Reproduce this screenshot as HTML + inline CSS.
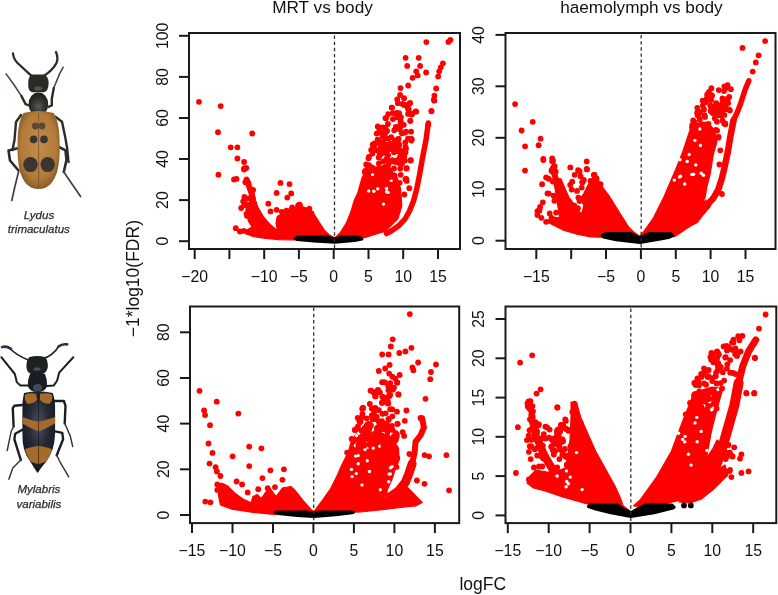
<!DOCTYPE html>
<html><head><meta charset="utf-8"><style>
html,body{margin:0;padding:0;background:#fff;}
body{width:778px;height:595px;overflow:hidden;position:relative;}
svg{position:absolute;left:0;top:0;will-change:transform;}
</style></head><body>
<svg width="778" height="595" viewBox="0 0 778 595" font-family="'Liberation Sans', sans-serif">


<g id="beetle1" filter="url(#soft)">
  <defs>
    <filter id="soft" x="-10%" y="-10%" width="120%" height="120%"><feGaussianBlur stdDeviation="0.45"/></filter>
    <radialGradient id="el1" cx="0.5" cy="0.45" r="0.6">
      <stop offset="0" stop-color="#c18d4b"/>
      <stop offset="0.7" stop-color="#b27a3a"/>
      <stop offset="1" stop-color="#7e5224"/>
    </radialGradient>
    <radialGradient id="pr1" cx="0.5" cy="0.6" r="0.55">
      <stop offset="0" stop-color="#5a5a58"/>
      <stop offset="0.6" stop-color="#30302c"/>
      <stop offset="1" stop-color="#1f1f1c"/>
    </radialGradient>
    <radialGradient id="el2" cx="0.5" cy="0.4" r="0.6">
      <stop offset="0" stop-color="#4a5060"/>
      <stop offset="0.5" stop-color="#262a36"/>
      <stop offset="1" stop-color="#15171e"/>
    </radialGradient>
  </defs>
  <g fill="none" stroke-linecap="round" stroke-linejoin="round">
    <!-- antennae -->
    <path d="M13,53.5 Q13.5,59 17.5,63 L32.3,76.6" stroke="#2a2d30" stroke-width="2.3"/>
    <path d="M56,52 Q58.5,58 56.5,63 Q53,70 43,76.6" stroke="#2a2d30" stroke-width="2.3"/>
    <!-- front legs -->
    <path d="M6.1,73.9 L13.5,84 L21.5,96.1" stroke="#4e3d40" stroke-width="1.5"/>
    <path d="M21.5,96.1 L25.6,104.2 L29,105.5" stroke="#2d2a28" stroke-width="2.4"/>
    <path d="M63.2,67.2 L59.2,74.6 L53.8,88" stroke="#4e3d40" stroke-width="1.5"/>
    <path d="M53.8,88 L51.8,98.8 L51.8,105.5 L48.4,106.9" stroke="#2d2a28" stroke-width="2.4"/>
    <!-- middle/hind legs left -->
    <path d="M21,115 L16,122 L14.5,140 L12.5,150" stroke="#2d2a28" stroke-width="2.4"/>
    <path d="M19,148 L8.5,150.5 L10,160.5 L18.5,170.5" stroke="#2d2a28" stroke-width="2.6"/>
    <path d="M18.5,172 L15,186 L11.8,200.5" stroke="#4a3a40" stroke-width="1.7"/>
    <!-- right -->
    <path d="M55.4,116.8 L62,121.8 L65.5,138.6 L67.2,148.7 L68.5,162" stroke="#2d2a28" stroke-width="2.4"/>
    <path d="M59,147 L65.5,150.3 L66.5,160 L63.8,172" stroke="#2d2a28" stroke-width="2.6"/>
    <path d="M63.8,172 L72,184 L80.6,196.5" stroke="#4a3a40" stroke-width="1.7"/>
  </g>
  <!-- head -->
  <path d="M31,74.5 L45,74.5 Q49,78 48.6,84 Q48.4,91 44,92.3 L32,92.3 Q28,91 28.2,84 Q28,78 31,74.5 Z" fill="#2a2b24"/>
  <ellipse cx="38.3" cy="88.5" rx="4" ry="2" fill="#55554e"/>
  <!-- pronotum -->
  <ellipse cx="38.4" cy="104.2" rx="9.8" ry="11.8" fill="url(#pr1)"/>
  <!-- elytra -->
  <path d="M23.5,113 Q38.5,109 53.7,113 Q59,120 59.6,140 Q60.5,160 57.1,172.2 Q53,184 46,187.5 Q38.6,190.5 31,187.5 Q24,184 20.1,172.2 Q16.8,160 17.6,140 Q18,120 23.5,113 Z" fill="url(#el1)"/>
  <line x1="38.6" y1="113" x2="38.6" y2="189" stroke="#7a5228" stroke-width="0.8"/>
  <g fill="#3a3631">
    <ellipse cx="35.3" cy="126" rx="3.3" ry="3.4" opacity="0.75"/>
    <ellipse cx="42" cy="126" rx="3.3" ry="3.4" opacity="0.75"/>
    <ellipse cx="33.6" cy="139.4" rx="3.8" ry="3.8"/>
    <ellipse cx="44" cy="139.4" rx="3.8" ry="3.8"/>
    <ellipse cx="30.5" cy="164.6" rx="7.2" ry="7.5"/>
    <ellipse cx="47.7" cy="164.6" rx="7.2" ry="7.5"/>
  </g>
</g>

<g id="beetle2" filter="url(#soft)">
  <g fill="none" stroke-linecap="round" stroke-linejoin="round">
    <!-- antennae -->
    <path d="M10,348.5 Q16,355 28.2,359.9" stroke="#1e2230" stroke-width="1.6"/>
    <path d="M2,347.1 Q6,345.5 11,348.8" stroke="#2a3045" stroke-width="2.6"/>
    <path d="M59,346 Q53,356 41.7,359.2" stroke="#1e2230" stroke-width="1.6"/>
    <path d="M58.5,346.5 Q62,343.5 67.2,344.4" stroke="#2a3045" stroke-width="2.6"/>
    <!-- front legs -->
    <path d="M1.3,357.2 L14.8,374 L16.8,382.1 L20.2,385.4 L28.2,385.4" stroke="#1c1f28" stroke-width="2"/>
    <path d="M73.3,357.2 L59.2,372.6 L57.1,380.7 L53.8,385.4 L47.1,386.1" stroke="#1c1f28" stroke-width="2"/>
    <!-- middle legs -->
    <path d="M22.4,405 L14.4,405.8 L12.8,408.2 L13.6,426.5" stroke="#1c1f28" stroke-width="2.4"/>
    <path d="M13.6,426.5 L11.2,431.3 L7.2,450.5" stroke="#2a3045" stroke-width="1.4"/>
    <path d="M54.3,401 L63.9,401 L65.5,405.8 L64.7,423.3" stroke="#1c1f28" stroke-width="2.4"/>
    <path d="M64.7,423.3 L70.3,436.1 L72.7,446.5" stroke="#2a3045" stroke-width="1.4"/>
    <!-- hind legs -->
    <path d="M22.4,429.7 L15.2,433.7 L14.4,439.3 L20.8,460" stroke="#1c1f28" stroke-width="2.4"/>
    <path d="M20.8,460 L12.8,468 L8.8,479.2" stroke="#2a3045" stroke-width="1.4"/>
    <path d="M55.1,431.3 L62.3,432.9 L63.1,439.3 L56.7,455.3" stroke="#1c1f28" stroke-width="2.4"/>
    <path d="M56.7,455.3 L60.7,463.2 L68.7,476.8" stroke="#2a3045" stroke-width="1.4"/>
  </g>
  <!-- head -->
  <path d="M29,357.2 Q37,355 45.5,357.2 Q48.5,362 47.7,368 Q46,374 40,374.5 L34,374.5 Q27.5,374 26.5,368 Q25.8,362 29,357.2 Z" fill="#1f2222"/>
  <ellipse cx="37" cy="369" rx="3.5" ry="1.8" fill="#4a5058"/>
  <!-- pronotum -->
  <path d="M30,374 Q37.5,372.5 45,374 Q47.5,380 47.1,386 Q46,391.5 37.5,392 Q29,391.5 27.8,386 Q27.4,380 30,374 Z" fill="#1c1f26"/>
  <ellipse cx="37.5" cy="387.5" rx="4.5" ry="3.5" fill="#4e5664" opacity="0.8"/>
  <!-- elytra -->
  <path d="M24,393 Q38,389.5 52.7,393 Q55.3,400 55.1,409 L55.1,432.9 Q54.8,442 52.7,448.9 Q50,456 46.3,461.6 Q41,468 37.5,473 Q34,468 30.3,461.6 Q26,456 24,448.9 Q22.2,442 22.4,432.9 L22.4,409 Q22.2,400 24,393 Z" fill="url(#el2)"/>
  <g fill="#a66b2c">
    <path d="M25,394.5 Q30,392.5 36,394 L37,400 Q33,404.5 27,403.5 Q24,400 25,394.5 Z"/>
    <path d="M40,394 Q46,392.5 52,394.5 Q53,400 50,403.5 Q44,404.5 40,400 Z"/>
    <path d="M22.4,417 Q30,420 38.5,421.7 Q47,420 55.1,417 L55.1,423.5 Q47,428 38.5,431.5 Q30,428 22.4,423.5 Z"/>
    <path d="M25,449 Q32,446.5 38.5,445.7 Q45,446.5 52,449 Q50,457 46,461.5 Q41,463.5 38.5,464 Q35,463.5 31,461.5 Q27,457 25,449 Z"/>
  </g>
  <line x1="38.5" y1="393" x2="38.5" y2="472" stroke="#0f1015" stroke-width="0.8" opacity="0.7"/>
</g>

<g font-style="italic" font-size="11.5" fill="#2a2a2a" stroke="#2a2a2a" stroke-width="0.25" text-anchor="middle">
<text x="38.9" y="219">Lydus</text>
<text x="38.8" y="233.4">trimaculatus</text>
<text x="38.9" y="493.4">Mylabris</text>
<text x="38.9" y="507.8">variabilis</text>
</g>

<g>
<polygon points="253.0,199.0 255.3,201.0 258.0,207.3 263.1,216.3 269.6,224.0 277.3,230.4 276.0,223.0 277.3,216.3 282.0,214.0 290.0,213.0 294.0,212.4 296.6,208.6 300.4,206.0 306.8,208.0 311.6,211.6 313.9,213.9 319.7,223.1 324.3,230.1 329.0,234.7 334.2,237.6 334.5,239.0 320.0,240.5 294.0,239.8 278.6,239.6 265.7,238.4 252.9,236.5 248.0,234.5 247.0,230.0 252.0,227.0 248.6,221.5 246.0,212.0 248.0,207.0 250.0,201.0" fill="#f00" stroke="#f00" stroke-width="1.2" stroke-linejoin="round"/>
<polygon points="334.7,238.0 335.9,237.0 340.5,232.4 346.3,223.1 350.9,211.6 354.4,200.0 357.6,193.3 362.0,178.0 366.0,170.0 372.0,168.0 380.0,166.0 388.0,169.0 394.0,175.0 398.0,182.0 400.5,188.2 401.8,205.9 398.0,218.5 385.4,231.1 365.2,237.4 345.0,240.0 334.0,241.0" fill="#f00" stroke="#f00" stroke-width="1.2" stroke-linejoin="round"/>
<polyline points="246.6,179.5 249.0,186.0 251.5,193.0 253.0,199.0" fill="none" stroke="#f00" stroke-width="6" stroke-linecap="round" stroke-linejoin="round"/>
<polyline points="428.3,123.0 426.0,140.0 422.5,158.0 419.5,175.0 416.5,190.0 413.5,201.0 409.5,211.0 405.0,219.0 399.0,225.5 392.0,230.5 386.5,233.5" fill="none" stroke="#f00" stroke-width="5.5" stroke-linecap="round" stroke-linejoin="round"/>
<circle cx="377.7" cy="188.7" r="1.7" fill="#fff"/>
<circle cx="372.5" cy="174.6" r="1.7" fill="#fff"/>
<circle cx="388.1" cy="192.4" r="1.7" fill="#fff"/>
<circle cx="380.2" cy="174.1" r="1.7" fill="#fff"/>
<circle cx="386.6" cy="191.7" r="1.7" fill="#fff"/>
<circle cx="391.2" cy="180.4" r="1.7" fill="#fff"/>
<circle cx="386.6" cy="188.5" r="1.7" fill="#fff"/>
<circle cx="373.8" cy="191.3" r="1.7" fill="#fff"/>
<circle cx="368.7" cy="190.9" r="1.7" fill="#fff"/>
<circle cx="383.5" cy="204.1" r="1.7" fill="#fff"/>
<circle cx="246.5" cy="213.8" r="2.9" fill="#f00"/>
<circle cx="244.4" cy="196.9" r="2.9" fill="#f00"/>
<circle cx="248.1" cy="198.3" r="2.9" fill="#f00"/>
<circle cx="246.9" cy="215.8" r="2.9" fill="#f00"/>
<circle cx="245.4" cy="182.2" r="2.9" fill="#f00"/>
<circle cx="252.2" cy="191.3" r="2.9" fill="#f00"/>
<circle cx="244.1" cy="203.3" r="2.9" fill="#f00"/>
<circle cx="254.3" cy="203.1" r="2.9" fill="#f00"/>
<circle cx="250.5" cy="211.6" r="2.9" fill="#f00"/>
<circle cx="248.3" cy="183.0" r="2.9" fill="#f00"/>
<circle cx="253.2" cy="189.8" r="2.9" fill="#f00"/>
<circle cx="245.4" cy="198.9" r="2.9" fill="#f00"/>
<circle cx="248.3" cy="209.7" r="2.9" fill="#f00"/>
<circle cx="247.9" cy="204.9" r="2.9" fill="#f00"/>
<circle cx="311.5" cy="213.4" r="2.9" fill="#f00"/>
<circle cx="304.2" cy="210.7" r="2.9" fill="#f00"/>
<circle cx="298.7" cy="219.1" r="2.9" fill="#f00"/>
<circle cx="300.0" cy="205.1" r="2.9" fill="#f00"/>
<circle cx="284.5" cy="221.1" r="2.9" fill="#f00"/>
<circle cx="297.7" cy="208.5" r="2.9" fill="#f00"/>
<circle cx="289.4" cy="213.1" r="2.9" fill="#f00"/>
<circle cx="298.1" cy="205.3" r="2.9" fill="#f00"/>
<circle cx="288.7" cy="219.0" r="2.9" fill="#f00"/>
<circle cx="286.5" cy="210.6" r="2.9" fill="#f00"/>
<circle cx="301.0" cy="216.7" r="2.9" fill="#f00"/>
<circle cx="295.3" cy="209.9" r="2.9" fill="#f00"/>
<circle cx="290.8" cy="210.7" r="2.9" fill="#f00"/>
<circle cx="306.2" cy="218.0" r="2.9" fill="#f00"/>
<circle cx="405.9" cy="149.0" r="2.9" fill="#f00"/>
<circle cx="400.4" cy="118.2" r="2.9" fill="#f00"/>
<circle cx="396.3" cy="113.5" r="2.9" fill="#f00"/>
<circle cx="408.1" cy="108.4" r="2.9" fill="#f00"/>
<circle cx="397.9" cy="103.2" r="2.9" fill="#f00"/>
<circle cx="376.7" cy="133.6" r="2.9" fill="#f00"/>
<circle cx="396.8" cy="112.9" r="2.9" fill="#f00"/>
<circle cx="378.9" cy="141.0" r="2.9" fill="#f00"/>
<circle cx="395.6" cy="146.5" r="2.9" fill="#f00"/>
<circle cx="404.9" cy="160.6" r="2.9" fill="#f00"/>
<circle cx="388.7" cy="138.6" r="2.9" fill="#f00"/>
<circle cx="394.2" cy="151.6" r="2.9" fill="#f00"/>
<circle cx="394.6" cy="148.2" r="2.9" fill="#f00"/>
<circle cx="377.7" cy="150.3" r="2.9" fill="#f00"/>
<circle cx="393.7" cy="151.3" r="2.9" fill="#f00"/>
<circle cx="387.1" cy="131.0" r="2.9" fill="#f00"/>
<circle cx="383.9" cy="152.9" r="2.9" fill="#f00"/>
<circle cx="371.2" cy="149.9" r="2.9" fill="#f00"/>
<circle cx="405.5" cy="179.2" r="2.9" fill="#f00"/>
<circle cx="397.1" cy="117.3" r="2.9" fill="#f00"/>
<circle cx="400.3" cy="156.4" r="2.9" fill="#f00"/>
<circle cx="397.6" cy="140.4" r="2.9" fill="#f00"/>
<circle cx="406.1" cy="131.7" r="2.9" fill="#f00"/>
<circle cx="400.5" cy="151.6" r="2.9" fill="#f00"/>
<circle cx="400.2" cy="168.6" r="2.9" fill="#f00"/>
<circle cx="381.1" cy="145.2" r="2.9" fill="#f00"/>
<circle cx="400.3" cy="126.3" r="2.9" fill="#f00"/>
<circle cx="388.2" cy="114.2" r="2.9" fill="#f00"/>
<circle cx="401.8" cy="133.3" r="2.9" fill="#f00"/>
<circle cx="411.4" cy="140.6" r="2.9" fill="#f00"/>
<circle cx="382.9" cy="142.9" r="2.9" fill="#f00"/>
<circle cx="392.2" cy="148.8" r="2.9" fill="#f00"/>
<circle cx="397.4" cy="162.3" r="2.9" fill="#f00"/>
<circle cx="392.9" cy="119.1" r="2.9" fill="#f00"/>
<circle cx="399.9" cy="129.5" r="2.9" fill="#f00"/>
<circle cx="384.9" cy="138.5" r="2.9" fill="#f00"/>
<circle cx="411.1" cy="131.7" r="2.9" fill="#f00"/>
<circle cx="404.3" cy="156.6" r="2.9" fill="#f00"/>
<circle cx="398.6" cy="138.7" r="2.9" fill="#f00"/>
<circle cx="399.2" cy="158.7" r="2.9" fill="#f00"/>
<circle cx="406.3" cy="178.8" r="2.9" fill="#f00"/>
<circle cx="374.5" cy="143.4" r="2.9" fill="#f00"/>
<circle cx="395.8" cy="127.0" r="2.9" fill="#f00"/>
<circle cx="402.4" cy="103.9" r="2.9" fill="#f00"/>
<circle cx="400.8" cy="150.7" r="2.9" fill="#f00"/>
<circle cx="400.9" cy="117.1" r="2.9" fill="#f00"/>
<circle cx="379.6" cy="153.1" r="2.9" fill="#f00"/>
<circle cx="403.8" cy="124.8" r="2.9" fill="#f00"/>
<circle cx="391.5" cy="144.5" r="2.9" fill="#f00"/>
<circle cx="406.7" cy="180.9" r="2.9" fill="#f00"/>
<circle cx="400.7" cy="121.4" r="2.9" fill="#f00"/>
<circle cx="411.7" cy="114.6" r="2.9" fill="#f00"/>
<circle cx="407.1" cy="105.9" r="2.9" fill="#f00"/>
<circle cx="397.2" cy="99.3" r="2.9" fill="#f00"/>
<circle cx="408.5" cy="109.2" r="2.9" fill="#f00"/>
<circle cx="372.7" cy="144.7" r="2.9" fill="#f00"/>
<circle cx="368.9" cy="156.9" r="2.9" fill="#f00"/>
<circle cx="408.0" cy="138.7" r="2.9" fill="#f00"/>
<circle cx="385.2" cy="128.2" r="2.9" fill="#f00"/>
<circle cx="378.9" cy="132.5" r="2.9" fill="#f00"/>
<circle cx="376.5" cy="150.3" r="2.9" fill="#f00"/>
<circle cx="383.0" cy="127.3" r="2.9" fill="#f00"/>
<circle cx="385.1" cy="133.2" r="2.9" fill="#f00"/>
<circle cx="396.2" cy="150.8" r="2.9" fill="#f00"/>
<circle cx="396.2" cy="161.9" r="2.9" fill="#f00"/>
<circle cx="405.3" cy="142.3" r="2.9" fill="#f00"/>
<circle cx="405.6" cy="147.0" r="2.9" fill="#f00"/>
<circle cx="402.0" cy="163.9" r="2.9" fill="#f00"/>
<circle cx="400.2" cy="124.8" r="2.9" fill="#f00"/>
<circle cx="399.1" cy="113.1" r="2.9" fill="#f00"/>
<circle cx="378.7" cy="157.5" r="2.9" fill="#f00"/>
<circle cx="384.0" cy="147.4" r="2.9" fill="#f00"/>
<circle cx="399.7" cy="182.8" r="2.9" fill="#f00"/>
<circle cx="374.0" cy="146.0" r="2.9" fill="#f00"/>
<circle cx="394.0" cy="161.5" r="2.9" fill="#f00"/>
<circle cx="384.8" cy="136.3" r="2.9" fill="#f00"/>
<circle cx="382.6" cy="136.6" r="2.9" fill="#f00"/>
<circle cx="387.0" cy="153.4" r="2.9" fill="#f00"/>
<circle cx="368.5" cy="158.3" r="2.9" fill="#f00"/>
<circle cx="366.0" cy="171.4" r="2.9" fill="#f00"/>
<circle cx="389.3" cy="160.8" r="2.9" fill="#f00"/>
<circle cx="383.8" cy="167.9" r="2.9" fill="#f00"/>
<circle cx="398.1" cy="140.2" r="2.9" fill="#f00"/>
<circle cx="397.2" cy="139.8" r="2.9" fill="#f00"/>
<circle cx="379.9" cy="155.3" r="2.9" fill="#f00"/>
<circle cx="378.5" cy="172.5" r="2.9" fill="#f00"/>
<circle cx="383.6" cy="143.5" r="2.9" fill="#f00"/>
<circle cx="388.6" cy="161.3" r="2.9" fill="#f00"/>
<circle cx="397.6" cy="146.7" r="2.9" fill="#f00"/>
<circle cx="394.0" cy="168.4" r="2.9" fill="#f00"/>
<circle cx="376.5" cy="171.6" r="2.9" fill="#f00"/>
<circle cx="382.9" cy="143.1" r="2.9" fill="#f00"/>
<circle cx="369.1" cy="165.2" r="2.9" fill="#f00"/>
<circle cx="379.5" cy="142.6" r="2.9" fill="#f00"/>
<circle cx="380.6" cy="173.7" r="2.9" fill="#f00"/>
<circle cx="377.2" cy="172.9" r="2.9" fill="#f00"/>
<circle cx="365.5" cy="172.9" r="2.9" fill="#f00"/>
<circle cx="388.1" cy="155.1" r="2.9" fill="#f00"/>
<circle cx="393.3" cy="175.2" r="2.9" fill="#f00"/>
<circle cx="384.7" cy="171.8" r="2.9" fill="#f00"/>
<circle cx="384.4" cy="168.4" r="2.9" fill="#f00"/>
<circle cx="372.5" cy="167.7" r="2.9" fill="#f00"/>
<circle cx="381.0" cy="147.3" r="2.9" fill="#f00"/>
<circle cx="395.4" cy="179.3" r="2.9" fill="#f00"/>
<circle cx="387.0" cy="144.7" r="2.9" fill="#f00"/>
<circle cx="377.6" cy="139.6" r="2.9" fill="#f00"/>
<circle cx="364.8" cy="171.9" r="2.9" fill="#f00"/>
<circle cx="384.9" cy="166.9" r="2.9" fill="#f00"/>
<circle cx="390.2" cy="143.5" r="2.9" fill="#f00"/>
<circle cx="367.0" cy="174.5" r="2.9" fill="#f00"/>
<circle cx="372.3" cy="169.6" r="2.9" fill="#f00"/>
<circle cx="392.2" cy="146.7" r="2.9" fill="#f00"/>
<circle cx="390.6" cy="174.2" r="2.9" fill="#f00"/>
<circle cx="385.1" cy="175.6" r="2.9" fill="#f00"/>
<circle cx="392.5" cy="160.1" r="2.9" fill="#f00"/>
<circle cx="394.6" cy="175.6" r="2.9" fill="#f00"/>
<circle cx="390.2" cy="170.9" r="2.9" fill="#f00"/>
<circle cx="389.2" cy="177.2" r="2.9" fill="#f00"/>
<circle cx="369.3" cy="171.6" r="2.9" fill="#f00"/>
<circle cx="399.5" cy="145.0" r="2.9" fill="#f00"/>
<circle cx="394.0" cy="152.2" r="2.9" fill="#f00"/>
<circle cx="394.9" cy="140.4" r="2.9" fill="#f00"/>
<circle cx="399.3" cy="163.1" r="2.9" fill="#f00"/>
<circle cx="390.1" cy="149.1" r="2.9" fill="#f00"/>
<circle cx="389.4" cy="177.0" r="2.9" fill="#f00"/>
<circle cx="386.5" cy="150.5" r="2.9" fill="#f00"/>
<circle cx="391.2" cy="137.1" r="2.9" fill="#f00"/>
<circle cx="378.9" cy="163.4" r="2.9" fill="#f00"/>
<circle cx="397.7" cy="143.7" r="2.9" fill="#f00"/>
<circle cx="382.0" cy="174.6" r="2.9" fill="#f00"/>
<circle cx="386.6" cy="159.6" r="2.9" fill="#f00"/>
<circle cx="380.5" cy="151.8" r="2.9" fill="#f00"/>
<circle cx="400.7" cy="174.8" r="2.9" fill="#f00"/>
<circle cx="387.7" cy="161.1" r="2.9" fill="#f00"/>
<circle cx="372.4" cy="153.6" r="2.9" fill="#f00"/>
<circle cx="366.9" cy="174.8" r="2.9" fill="#f00"/>
<circle cx="366.2" cy="164.4" r="2.9" fill="#f00"/>
<circle cx="398.7" cy="151.6" r="2.9" fill="#f00"/>
<circle cx="388.6" cy="163.6" r="2.9" fill="#f00"/>
<circle cx="403.1" cy="160.2" r="2.9" fill="#f00"/>
<circle cx="367.6" cy="166.0" r="2.9" fill="#f00"/>
<circle cx="393.7" cy="148.9" r="2.9" fill="#f00"/>
<circle cx="387.9" cy="166.8" r="2.9" fill="#f00"/>
<circle cx="391.8" cy="161.3" r="2.9" fill="#f00"/>
<circle cx="394.3" cy="144.6" r="2.9" fill="#f00"/>
<circle cx="390.3" cy="175.2" r="2.9" fill="#f00"/>
<circle cx="395.7" cy="143.5" r="2.9" fill="#f00"/>
<circle cx="384.7" cy="168.0" r="2.9" fill="#f00"/>
<circle cx="386.0" cy="145.1" r="2.9" fill="#f00"/>
<circle cx="383.1" cy="161.3" r="2.9" fill="#f00"/>
<circle cx="390.8" cy="146.9" r="2.9" fill="#f00"/>
<circle cx="386.6" cy="159.0" r="2.9" fill="#f00"/>
<circle cx="380.9" cy="150.9" r="2.9" fill="#f00"/>
<circle cx="399.7" cy="159.6" r="2.9" fill="#f00"/>
<circle cx="378.4" cy="141.6" r="2.9" fill="#f00"/>
<circle cx="396.6" cy="160.6" r="2.9" fill="#f00"/>
<circle cx="365.2" cy="170.9" r="2.9" fill="#f00"/>
<circle cx="367.7" cy="176.1" r="2.9" fill="#f00"/>
<circle cx="402.1" cy="153.2" r="2.9" fill="#f00"/>
<circle cx="381.2" cy="174.3" r="2.9" fill="#f00"/>
<circle cx="199.0" cy="101.8" r="2.9" fill="#f00"/>
<circle cx="220.7" cy="106.1" r="2.9" fill="#f00"/>
<circle cx="218.0" cy="132.2" r="2.9" fill="#f00"/>
<circle cx="252.2" cy="133.5" r="2.9" fill="#f00"/>
<circle cx="230.7" cy="147.3" r="2.9" fill="#f00"/>
<circle cx="237.4" cy="147.3" r="2.9" fill="#f00"/>
<circle cx="237.4" cy="158.5" r="2.9" fill="#f00"/>
<circle cx="244.1" cy="162.0" r="2.9" fill="#f00"/>
<circle cx="244.1" cy="168.5" r="2.9" fill="#f00"/>
<circle cx="244.0" cy="169.5" r="2.9" fill="#f00"/>
<circle cx="218.4" cy="174.7" r="2.9" fill="#f00"/>
<circle cx="234.0" cy="179.5" r="2.9" fill="#f00"/>
<circle cx="236.5" cy="178.8" r="2.9" fill="#f00"/>
<circle cx="246.3" cy="168.0" r="2.9" fill="#f00"/>
<circle cx="280.5" cy="182.9" r="2.9" fill="#f00"/>
<circle cx="289.5" cy="184.1" r="2.9" fill="#f00"/>
<circle cx="276.6" cy="192.9" r="2.9" fill="#f00"/>
<circle cx="291.2" cy="193.4" r="2.9" fill="#f00"/>
<circle cx="287.3" cy="197.6" r="2.9" fill="#f00"/>
<circle cx="268.3" cy="203.7" r="2.9" fill="#f00"/>
<circle cx="292.1" cy="207.3" r="2.9" fill="#f00"/>
<circle cx="299.4" cy="204.7" r="2.9" fill="#f00"/>
<circle cx="309.4" cy="208.6" r="2.9" fill="#f00"/>
<circle cx="270.5" cy="211.4" r="2.9" fill="#f00"/>
<circle cx="276.6" cy="209.8" r="2.9" fill="#f00"/>
<circle cx="281.8" cy="211.8" r="2.9" fill="#f00"/>
<circle cx="243.2" cy="201.3" r="2.9" fill="#f00"/>
<circle cx="241.2" cy="208.0" r="2.9" fill="#f00"/>
<circle cx="245.9" cy="205.3" r="2.9" fill="#f00"/>
<circle cx="235.8" cy="228.2" r="2.9" fill="#f00"/>
<circle cx="239.9" cy="231.5" r="2.9" fill="#f00"/>
<circle cx="243.9" cy="230.9" r="2.9" fill="#f00"/>
<circle cx="247.9" cy="232.2" r="2.9" fill="#f00"/>
<circle cx="426.3" cy="42.1" r="2.9" fill="#f00"/>
<circle cx="448.4" cy="41.9" r="2.9" fill="#f00"/>
<circle cx="450.4" cy="39.9" r="2.9" fill="#f00"/>
<circle cx="405.6" cy="57.8" r="2.9" fill="#f00"/>
<circle cx="418.7" cy="57.8" r="2.9" fill="#f00"/>
<circle cx="407.2" cy="65.9" r="2.9" fill="#f00"/>
<circle cx="420.1" cy="65.9" r="2.9" fill="#f00"/>
<circle cx="416.2" cy="71.3" r="2.9" fill="#f00"/>
<circle cx="417.7" cy="75.4" r="2.9" fill="#f00"/>
<circle cx="426.1" cy="72.4" r="2.9" fill="#f00"/>
<circle cx="412.6" cy="77.8" r="2.9" fill="#f00"/>
<circle cx="408.2" cy="85.5" r="2.9" fill="#f00"/>
<circle cx="400.5" cy="88.1" r="2.9" fill="#f00"/>
<circle cx="400.1" cy="94.9" r="2.9" fill="#f00"/>
<circle cx="404.1" cy="98.2" r="2.9" fill="#f00"/>
<circle cx="410.2" cy="103.0" r="2.9" fill="#f00"/>
<circle cx="404.5" cy="104.6" r="2.9" fill="#f00"/>
<circle cx="392.0" cy="107.7" r="2.9" fill="#f00"/>
<circle cx="408.6" cy="109.7" r="2.9" fill="#f00"/>
<circle cx="416.2" cy="111.7" r="2.9" fill="#f00"/>
<circle cx="412.2" cy="113.7" r="2.9" fill="#f00"/>
<circle cx="392.8" cy="113.1" r="2.9" fill="#f00"/>
<circle cx="386.0" cy="118.3" r="2.9" fill="#f00"/>
<circle cx="378.7" cy="127.4" r="2.9" fill="#f00"/>
<circle cx="410.2" cy="120.8" r="2.9" fill="#f00"/>
<circle cx="442.9" cy="63.3" r="2.9" fill="#f00"/>
<circle cx="440.8" cy="67.3" r="2.9" fill="#f00"/>
<circle cx="439.2" cy="71.3" r="2.9" fill="#f00"/>
<circle cx="438.2" cy="76.4" r="2.9" fill="#f00"/>
<circle cx="436.2" cy="88.5" r="2.9" fill="#f00"/>
<circle cx="434.4" cy="95.6" r="2.9" fill="#f00"/>
<circle cx="433.8" cy="99.6" r="2.9" fill="#f00"/>
<circle cx="431.4" cy="111.3" r="2.9" fill="#f00"/>
<circle cx="428.3" cy="124.4" r="2.9" fill="#f00"/>
<circle cx="434.3" cy="100.7" r="2.9" fill="#f00"/>
<circle cx="431.5" cy="110.8" r="2.9" fill="#f00"/>
<circle cx="410.4" cy="120.8" r="2.9" fill="#f00"/>
<circle cx="411.1" cy="139.0" r="2.9" fill="#f00"/>
<circle cx="405.4" cy="152.4" r="2.9" fill="#f00"/>
<circle cx="410.8" cy="160.2" r="2.9" fill="#f00"/>
<circle cx="406.4" cy="168.5" r="2.9" fill="#f00"/>
<circle cx="391.7" cy="107.6" r="2.9" fill="#f00"/>
<circle cx="385.4" cy="118.1" r="2.9" fill="#f00"/>
<circle cx="377.8" cy="126.5" r="2.9" fill="#f00"/>
<circle cx="381.6" cy="132.8" r="2.9" fill="#f00"/>
<circle cx="375.3" cy="144.1" r="2.9" fill="#f00"/>
<circle cx="387.9" cy="124.0" r="2.9" fill="#f00"/>
<circle cx="394.2" cy="130.2" r="2.9" fill="#f00"/>
<circle cx="400.5" cy="125.2" r="2.9" fill="#f00"/>
<circle cx="404.3" cy="132.8" r="2.9" fill="#f00"/>
<circle cx="411.8" cy="139.1" r="2.9" fill="#f00"/>
<circle cx="405.0" cy="151.7" r="2.9" fill="#f00"/>
<circle cx="410.6" cy="160.5" r="2.9" fill="#f00"/>
<circle cx="406.8" cy="168.1" r="2.9" fill="#f00"/>
<circle cx="409.3" cy="188.2" r="2.9" fill="#f00"/>
<circle cx="404.3" cy="194.5" r="2.9" fill="#f00"/>
<circle cx="415.6" cy="111.3" r="2.9" fill="#f00"/>
<circle cx="409.3" cy="103.8" r="2.9" fill="#f00"/>
<circle cx="404.3" cy="105.0" r="2.9" fill="#f00"/>
<circle cx="408.1" cy="113.9" r="2.9" fill="#f00"/>
<polygon points="295.2,238.5 297.5,237.1 328.0,237.1 334.7,238.9 341.0,237.1 358.5,237.1 362.0,239.0 354.4,240.5 334.7,242.2 313.9,241.1 297.0,239.5" fill="#000" stroke="#000" stroke-width="3" stroke-linejoin="round"/>
</g>
<line x1="334.50" y1="35.5" x2="334.50" y2="248" stroke="#333" stroke-width="1.3" stroke-dasharray="3.4,2.75"/>
<rect x="189" y="33" width="271" height="216" fill="none" stroke="#1a1a1a" stroke-width="2"/>
<line x1="194.7" y1="249" x2="194.7" y2="259" stroke="#1a1a1a" stroke-width="2"/>
<text x="194.7" y="281.9" font-size="15.8" text-anchor="middle" fill="#111">−20</text>
<line x1="229.4" y1="249" x2="229.4" y2="259" stroke="#1a1a1a" stroke-width="2"/>
<line x1="264.2" y1="249" x2="264.2" y2="259" stroke="#1a1a1a" stroke-width="2"/>
<text x="264.2" y="281.9" font-size="15.8" text-anchor="middle" fill="#111">−10</text>
<line x1="298.9" y1="249" x2="298.9" y2="259" stroke="#1a1a1a" stroke-width="2"/>
<text x="298.9" y="281.9" font-size="15.8" text-anchor="middle" fill="#111">−5</text>
<line x1="333.7" y1="249" x2="333.7" y2="259" stroke="#1a1a1a" stroke-width="2"/>
<text x="333.7" y="281.9" font-size="15.8" text-anchor="middle" fill="#111">0</text>
<line x1="368.5" y1="249" x2="368.5" y2="259" stroke="#1a1a1a" stroke-width="2"/>
<text x="368.5" y="281.9" font-size="15.8" text-anchor="middle" fill="#111">5</text>
<line x1="403.2" y1="249" x2="403.2" y2="259" stroke="#1a1a1a" stroke-width="2"/>
<text x="403.2" y="281.9" font-size="15.8" text-anchor="middle" fill="#111">10</text>
<line x1="438.0" y1="249" x2="438.0" y2="259" stroke="#1a1a1a" stroke-width="2"/>
<text x="438.0" y="281.9" font-size="15.8" text-anchor="middle" fill="#111">15</text>
<line x1="179" y1="241.2" x2="189" y2="241.2" stroke="#1a1a1a" stroke-width="2"/>
<text transform="translate(167.7,241.2) rotate(-90)" font-size="15.8" text-anchor="middle" fill="#111">0</text>
<line x1="179" y1="200.1" x2="189" y2="200.1" stroke="#1a1a1a" stroke-width="2"/>
<text transform="translate(167.7,200.1) rotate(-90)" font-size="15.8" text-anchor="middle" fill="#111">20</text>
<line x1="179" y1="159.0" x2="189" y2="159.0" stroke="#1a1a1a" stroke-width="2"/>
<text transform="translate(167.7,159.0) rotate(-90)" font-size="15.8" text-anchor="middle" fill="#111">40</text>
<line x1="179" y1="118.0" x2="189" y2="118.0" stroke="#1a1a1a" stroke-width="2"/>
<text transform="translate(167.7,118.0) rotate(-90)" font-size="15.8" text-anchor="middle" fill="#111">60</text>
<line x1="179" y1="76.9" x2="189" y2="76.9" stroke="#1a1a1a" stroke-width="2"/>
<text transform="translate(167.7,76.9) rotate(-90)" font-size="15.8" text-anchor="middle" fill="#111">80</text>
<line x1="179" y1="35.8" x2="189" y2="35.8" stroke="#1a1a1a" stroke-width="2"/>
<text transform="translate(167.7,35.8) rotate(-90)" font-size="15.8" text-anchor="middle" fill="#111">100</text>
<g>
<polygon points="554.0,178.0 560.9,178.8 564.9,188.2 569.0,197.6 574.4,204.4 579.7,212.4 582.4,212.0 583.8,205.0 580.0,199.0 583.8,193.6 588.4,184.2 593.0,177.0 597.0,178.0 603.2,188.2 608.6,195.0 615.3,205.7 622.0,216.5 628.8,227.2 632.8,231.2 640.9,237.3 620.0,237.5 600.0,237.2 590.5,236.8 577.0,234.2 563.6,230.2 550.2,223.5 546.0,222.0 552.0,217.0 559.6,217.8 558.2,208.4 556.9,200.3 555.5,190.9 554.2,184.2" fill="#f00" stroke="#f00" stroke-width="1.2" stroke-linejoin="round"/>
<polygon points="640.0,236.0 643.7,231.6 653.0,218.7 664.1,196.5 675.2,170.6 682.6,152.1 690.0,129.9 695.0,124.0 702.0,122.0 709.0,124.0 715.2,131.0 716.9,141.8 713.5,153.6 711.8,163.7 710.2,173.8 706.8,187.2 705.1,197.3 701.8,204.0 706.0,200.0 705.0,212.0 697.4,222.4 678.9,231.6 665.0,235.0 645.0,238.0" fill="#f00" stroke="#f00" stroke-width="1.2" stroke-linejoin="round"/>
<polyline points="554.2,166.0 551.5,170.8 554.2,173.4 555.5,178.0" fill="none" stroke="#f00" stroke-width="6" stroke-linecap="round" stroke-linejoin="round"/>
<polyline points="748.8,80.9 745.0,90.0 740.5,104.0 737.0,113.0 733.6,120.0" fill="none" stroke="#f00" stroke-width="5.5" stroke-linecap="round" stroke-linejoin="round"/>
<polyline points="733.6,120.0 730.3,136.8 727.8,152.0 724.8,166.2 722.0,178.0 718.5,189.0 713.5,198.0 707.0,205.0 700.0,213.0 690.0,222.0 680.0,229.0" fill="none" stroke="#f00" stroke-width="6.5" stroke-linecap="round" stroke-linejoin="round"/>
<polyline points="707.0,205.0 700.0,213.0 690.0,222.0 680.0,229.0 674.0,233.0" fill="none" stroke="#f00" stroke-width="8" stroke-linecap="round" stroke-linejoin="round"/>
<circle cx="691.9" cy="174.5" r="1.7" fill="#fff"/>
<circle cx="703.5" cy="175.2" r="1.7" fill="#fff"/>
<circle cx="680.5" cy="176.2" r="1.7" fill="#fff"/>
<circle cx="679.6" cy="177.0" r="1.7" fill="#fff"/>
<circle cx="684.7" cy="184.0" r="1.7" fill="#fff"/>
<circle cx="689.2" cy="154.5" r="1.7" fill="#fff"/>
<circle cx="694.9" cy="140.4" r="1.7" fill="#fff"/>
<circle cx="700.4" cy="145.5" r="1.7" fill="#fff"/>
<circle cx="699.8" cy="129.0" r="1.7" fill="#fff"/>
<circle cx="674.3" cy="180.1" r="1.7" fill="#fff"/>
<circle cx="695.8" cy="164.9" r="1.7" fill="#fff"/>
<circle cx="693.6" cy="174.3" r="1.7" fill="#fff"/>
<circle cx="680.0" cy="159.8" r="1.7" fill="#fff"/>
<circle cx="687.2" cy="161.5" r="1.7" fill="#fff"/>
<circle cx="701.3" cy="173.2" r="1.7" fill="#fff"/>
<circle cx="580.6" cy="176.4" r="2.9" fill="#f00"/>
<circle cx="570.2" cy="184.9" r="2.9" fill="#f00"/>
<circle cx="583.8" cy="179.9" r="2.9" fill="#f00"/>
<circle cx="577.9" cy="208.2" r="2.9" fill="#f00"/>
<circle cx="579.5" cy="201.0" r="2.9" fill="#f00"/>
<circle cx="574.7" cy="174.8" r="2.9" fill="#f00"/>
<circle cx="572.2" cy="181.7" r="2.9" fill="#f00"/>
<circle cx="539.4" cy="209.7" r="2.9" fill="#f00"/>
<circle cx="539.3" cy="210.7" r="2.9" fill="#f00"/>
<circle cx="547.5" cy="193.4" r="2.9" fill="#f00"/>
<circle cx="556.1" cy="212.6" r="2.9" fill="#f00"/>
<circle cx="554.4" cy="200.7" r="2.9" fill="#f00"/>
<circle cx="549.7" cy="213.4" r="2.9" fill="#f00"/>
<circle cx="712.1" cy="95.6" r="2.9" fill="#f00"/>
<circle cx="716.0" cy="105.0" r="2.9" fill="#f00"/>
<circle cx="727.7" cy="98.7" r="2.9" fill="#f00"/>
<circle cx="725.2" cy="105.1" r="2.9" fill="#f00"/>
<circle cx="712.7" cy="108.3" r="2.9" fill="#f00"/>
<circle cx="704.5" cy="115.2" r="2.9" fill="#f00"/>
<circle cx="710.8" cy="110.7" r="2.9" fill="#f00"/>
<circle cx="720.9" cy="105.2" r="2.9" fill="#f00"/>
<circle cx="700.0" cy="112.0" r="2.9" fill="#f00"/>
<circle cx="697.6" cy="114.9" r="2.9" fill="#f00"/>
<circle cx="726.3" cy="87.9" r="2.9" fill="#f00"/>
<circle cx="702.8" cy="105.6" r="2.9" fill="#f00"/>
<circle cx="697.1" cy="112.7" r="2.9" fill="#f00"/>
<circle cx="725.4" cy="107.7" r="2.9" fill="#f00"/>
<circle cx="693.2" cy="120.3" r="2.9" fill="#f00"/>
<circle cx="707.1" cy="94.6" r="2.9" fill="#f00"/>
<circle cx="722.6" cy="110.0" r="2.9" fill="#f00"/>
<circle cx="695.5" cy="127.8" r="2.9" fill="#f00"/>
<circle cx="692.0" cy="127.5" r="2.9" fill="#f00"/>
<circle cx="714.8" cy="118.2" r="2.9" fill="#f00"/>
<circle cx="724.3" cy="114.9" r="2.9" fill="#f00"/>
<circle cx="708.5" cy="124.0" r="2.9" fill="#f00"/>
<circle cx="715.9" cy="130.0" r="2.9" fill="#f00"/>
<circle cx="716.9" cy="121.7" r="2.9" fill="#f00"/>
<circle cx="709.0" cy="91.8" r="2.9" fill="#f00"/>
<circle cx="693.9" cy="126.8" r="2.9" fill="#f00"/>
<circle cx="705.0" cy="102.0" r="2.9" fill="#f00"/>
<circle cx="708.1" cy="94.2" r="2.9" fill="#f00"/>
<circle cx="702.6" cy="100.6" r="2.9" fill="#f00"/>
<circle cx="719.8" cy="108.8" r="2.9" fill="#f00"/>
<circle cx="709.9" cy="99.7" r="2.9" fill="#f00"/>
<circle cx="711.2" cy="100.1" r="2.9" fill="#f00"/>
<circle cx="712.0" cy="107.0" r="2.9" fill="#f00"/>
<circle cx="718.5" cy="109.3" r="2.9" fill="#f00"/>
<circle cx="717.1" cy="111.4" r="2.9" fill="#f00"/>
<circle cx="717.8" cy="115.1" r="2.9" fill="#f00"/>
<circle cx="710.3" cy="105.7" r="2.9" fill="#f00"/>
<circle cx="706.8" cy="98.4" r="2.9" fill="#f00"/>
<circle cx="719.4" cy="110.0" r="2.9" fill="#f00"/>
<circle cx="722.7" cy="99.7" r="2.9" fill="#f00"/>
<circle cx="724.0" cy="91.0" r="2.9" fill="#f00"/>
<circle cx="726.2" cy="109.1" r="2.9" fill="#f00"/>
<circle cx="721.0" cy="115.8" r="2.9" fill="#f00"/>
<circle cx="692.3" cy="124.8" r="2.9" fill="#f00"/>
<circle cx="716.2" cy="103.2" r="2.9" fill="#f00"/>
<circle cx="709.4" cy="98.0" r="2.9" fill="#f00"/>
<circle cx="697.3" cy="107.8" r="2.9" fill="#f00"/>
<circle cx="704.0" cy="109.5" r="2.9" fill="#f00"/>
<circle cx="725.3" cy="101.7" r="2.9" fill="#f00"/>
<circle cx="714.1" cy="131.1" r="2.9" fill="#f00"/>
<circle cx="727.6" cy="85.1" r="2.9" fill="#f00"/>
<circle cx="708.5" cy="93.1" r="2.9" fill="#f00"/>
<circle cx="708.6" cy="97.4" r="2.9" fill="#f00"/>
<circle cx="722.7" cy="101.3" r="2.9" fill="#f00"/>
<circle cx="720.8" cy="114.8" r="2.9" fill="#f00"/>
<circle cx="712.6" cy="113.0" r="2.9" fill="#f00"/>
<circle cx="729.2" cy="97.0" r="2.9" fill="#f00"/>
<circle cx="699.8" cy="119.4" r="2.9" fill="#f00"/>
<circle cx="711.0" cy="111.3" r="2.9" fill="#f00"/>
<circle cx="727.1" cy="101.6" r="2.9" fill="#f00"/>
<circle cx="515.1" cy="104.1" r="2.9" fill="#f00"/>
<circle cx="532.7" cy="121.8" r="2.9" fill="#f00"/>
<circle cx="521.6" cy="130.5" r="2.9" fill="#f00"/>
<circle cx="540.6" cy="138.7" r="2.9" fill="#f00"/>
<circle cx="525.1" cy="146.3" r="2.9" fill="#f00"/>
<circle cx="538.6" cy="145.2" r="2.9" fill="#f00"/>
<circle cx="543.3" cy="159.0" r="2.9" fill="#f00"/>
<circle cx="552.2" cy="158.4" r="2.9" fill="#f00"/>
<circle cx="553.1" cy="160.8" r="2.9" fill="#f00"/>
<circle cx="586.7" cy="161.4" r="2.9" fill="#f00"/>
<circle cx="525.0" cy="170.6" r="2.9" fill="#f00"/>
<circle cx="570.3" cy="167.4" r="2.9" fill="#f00"/>
<circle cx="578.1" cy="170.2" r="2.9" fill="#f00"/>
<circle cx="579.6" cy="171.7" r="2.9" fill="#f00"/>
<circle cx="586.7" cy="169.0" r="2.9" fill="#f00"/>
<circle cx="594.3" cy="175.0" r="2.9" fill="#f00"/>
<circle cx="596.5" cy="178.5" r="2.9" fill="#f00"/>
<circle cx="554.6" cy="166.4" r="2.9" fill="#f00"/>
<circle cx="551.9" cy="170.2" r="2.9" fill="#f00"/>
<circle cx="555.7" cy="171.7" r="2.9" fill="#f00"/>
<circle cx="543.4" cy="160.0" r="2.9" fill="#f00"/>
<circle cx="552.2" cy="161.3" r="2.9" fill="#f00"/>
<circle cx="587.1" cy="169.4" r="2.9" fill="#f00"/>
<circle cx="593.8" cy="174.8" r="2.9" fill="#f00"/>
<circle cx="546.1" cy="177.5" r="2.9" fill="#f00"/>
<circle cx="542.1" cy="184.2" r="2.9" fill="#f00"/>
<circle cx="548.8" cy="178.8" r="2.9" fill="#f00"/>
<circle cx="552.8" cy="181.5" r="2.9" fill="#f00"/>
<circle cx="548.8" cy="193.6" r="2.9" fill="#f00"/>
<circle cx="553.5" cy="195.6" r="2.9" fill="#f00"/>
<circle cx="542.8" cy="202.3" r="2.9" fill="#f00"/>
<circle cx="540.1" cy="207.0" r="2.9" fill="#f00"/>
<circle cx="537.4" cy="211.1" r="2.9" fill="#f00"/>
<circle cx="537.4" cy="215.1" r="2.9" fill="#f00"/>
<circle cx="541.4" cy="217.8" r="2.9" fill="#f00"/>
<circle cx="546.1" cy="221.8" r="2.9" fill="#f00"/>
<circle cx="551.5" cy="217.8" r="2.9" fill="#f00"/>
<circle cx="571.7" cy="189.6" r="2.9" fill="#f00"/>
<circle cx="577.0" cy="190.9" r="2.9" fill="#f00"/>
<circle cx="582.4" cy="182.2" r="2.9" fill="#f00"/>
<circle cx="581.7" cy="187.6" r="2.9" fill="#f00"/>
<circle cx="574.4" cy="205.7" r="2.9" fill="#f00"/>
<circle cx="578.4" cy="197.6" r="2.9" fill="#f00"/>
<circle cx="594.5" cy="174.8" r="2.9" fill="#f00"/>
<circle cx="596.5" cy="179.5" r="2.9" fill="#f00"/>
<circle cx="590.5" cy="180.8" r="2.9" fill="#f00"/>
<circle cx="600.5" cy="184.2" r="2.9" fill="#f00"/>
<circle cx="582.4" cy="182.2" r="2.9" fill="#f00"/>
<circle cx="579.0" cy="170.8" r="2.9" fill="#f00"/>
<circle cx="765.1" cy="41.1" r="2.9" fill="#f00"/>
<circle cx="742.5" cy="47.9" r="2.9" fill="#f00"/>
<circle cx="758.6" cy="55.3" r="2.9" fill="#f00"/>
<circle cx="755.8" cy="62.4" r="2.9" fill="#f00"/>
<circle cx="752.7" cy="71.6" r="2.9" fill="#f00"/>
<circle cx="711.4" cy="88.2" r="2.9" fill="#f00"/>
<circle cx="718.8" cy="90.1" r="2.9" fill="#f00"/>
<circle cx="724.4" cy="86.4" r="2.9" fill="#f00"/>
<circle cx="730.9" cy="89.2" r="2.9" fill="#f00"/>
<circle cx="710.5" cy="94.7" r="2.9" fill="#f00"/>
<circle cx="705.9" cy="102.1" r="2.9" fill="#f00"/>
<circle cx="722.5" cy="98.4" r="2.9" fill="#f00"/>
<circle cx="728.1" cy="103.0" r="2.9" fill="#f00"/>
<circle cx="711.4" cy="107.7" r="2.9" fill="#f00"/>
<circle cx="717.9" cy="106.7" r="2.9" fill="#f00"/>
<circle cx="724.4" cy="108.6" r="2.9" fill="#f00"/>
<circle cx="729.9" cy="110.4" r="2.9" fill="#f00"/>
<circle cx="716.1" cy="113.2" r="2.9" fill="#f00"/>
<circle cx="698.5" cy="116.0" r="2.9" fill="#f00"/>
<circle cx="705.0" cy="116.9" r="2.9" fill="#f00"/>
<circle cx="722.5" cy="120.6" r="2.9" fill="#f00"/>
<circle cx="725.3" cy="124.3" r="2.9" fill="#f00"/>
<circle cx="694.8" cy="122.5" r="2.9" fill="#f00"/>
<circle cx="705.9" cy="124.3" r="2.9" fill="#f00"/>
<circle cx="728.9" cy="109.4" r="2.9" fill="#f00"/>
<circle cx="724.2" cy="123.6" r="2.9" fill="#f00"/>
<circle cx="717.1" cy="130.6" r="2.9" fill="#f00"/>
<circle cx="718.3" cy="137.7" r="2.9" fill="#f00"/>
<circle cx="720.3" cy="150.3" r="2.9" fill="#f00"/>
<circle cx="719.4" cy="164.5" r="2.9" fill="#f00"/>
<circle cx="721.9" cy="194.0" r="2.9" fill="#f00"/>
<circle cx="718.6" cy="136.8" r="2.9" fill="#f00"/>
<circle cx="725.3" cy="123.4" r="2.9" fill="#f00"/>
<polygon points="602.0,235.3 604.0,234.0 608.6,233.5 631.0,233.5 640.0,237.9 649.0,233.5 671.0,233.7 672.8,235.7 669.5,237.2 660.4,239.1 640.0,242.5 616.0,239.8 603.5,237.0" fill="#000" stroke="#000" stroke-width="3" stroke-linejoin="round"/>
</g>
<line x1="641.20" y1="35.0" x2="641.20" y2="248" stroke="#333" stroke-width="1.3" stroke-dasharray="3.4,2.75"/>
<rect x="505.5" y="33" width="270.0" height="216" fill="none" stroke="#1a1a1a" stroke-width="2"/>
<line x1="536.3" y1="249" x2="536.3" y2="259" stroke="#1a1a1a" stroke-width="2"/>
<text x="536.3" y="281.9" font-size="15.8" text-anchor="middle" fill="#111">−15</text>
<line x1="571.2" y1="249" x2="571.2" y2="259" stroke="#1a1a1a" stroke-width="2"/>
<line x1="606.0" y1="249" x2="606.0" y2="259" stroke="#1a1a1a" stroke-width="2"/>
<text x="606.0" y="281.9" font-size="15.8" text-anchor="middle" fill="#111">−5</text>
<line x1="640.9" y1="249" x2="640.9" y2="259" stroke="#1a1a1a" stroke-width="2"/>
<text x="640.9" y="281.9" font-size="15.8" text-anchor="middle" fill="#111">0</text>
<line x1="675.8" y1="249" x2="675.8" y2="259" stroke="#1a1a1a" stroke-width="2"/>
<text x="675.8" y="281.9" font-size="15.8" text-anchor="middle" fill="#111">5</text>
<line x1="710.6" y1="249" x2="710.6" y2="259" stroke="#1a1a1a" stroke-width="2"/>
<text x="710.6" y="281.9" font-size="15.8" text-anchor="middle" fill="#111">10</text>
<line x1="745.5" y1="249" x2="745.5" y2="259" stroke="#1a1a1a" stroke-width="2"/>
<text x="745.5" y="281.9" font-size="15.8" text-anchor="middle" fill="#111">15</text>
<line x1="495.5" y1="240.7" x2="505.5" y2="240.7" stroke="#1a1a1a" stroke-width="2"/>
<text transform="translate(484.2,240.7) rotate(-90)" font-size="15.8" text-anchor="middle" fill="#111">0</text>
<line x1="495.5" y1="189.2" x2="505.5" y2="189.2" stroke="#1a1a1a" stroke-width="2"/>
<text transform="translate(484.2,189.2) rotate(-90)" font-size="15.8" text-anchor="middle" fill="#111">10</text>
<line x1="495.5" y1="137.8" x2="505.5" y2="137.8" stroke="#1a1a1a" stroke-width="2"/>
<text transform="translate(484.2,137.8) rotate(-90)" font-size="15.8" text-anchor="middle" fill="#111">20</text>
<line x1="495.5" y1="86.3" x2="505.5" y2="86.3" stroke="#1a1a1a" stroke-width="2"/>
<text transform="translate(484.2,86.3) rotate(-90)" font-size="15.8" text-anchor="middle" fill="#111">30</text>
<line x1="495.5" y1="34.9" x2="505.5" y2="34.9" stroke="#1a1a1a" stroke-width="2"/>
<text transform="translate(484.2,34.9) rotate(-90)" font-size="15.8" text-anchor="middle" fill="#111">40</text>
<g>
<polygon points="219.4,484.0 221.5,483.0 227.8,486.1 234.1,492.4 242.5,498.7 250.9,502.9 253.0,496.6 257.2,494.5 261.4,498.7 265.6,492.4 269.8,488.2 276.1,496.6 282.4,488.2 290.8,486.5 295.0,490.3 303.4,500.8 311.8,510.3 313.9,511.5 300.0,513.0 274.0,514.4 253.0,512.3 232.0,509.2 220.4,505.0 218.3,494.5" fill="#f00" stroke="#f00" stroke-width="1.2" stroke-linejoin="round"/>
<polygon points="314.0,511.5 322.8,499.8 330.7,488.6 337.1,475.8 341.9,464.7 348.3,451.9 351.5,440.7 356.0,434.0 362.0,438.0 368.0,431.0 375.0,437.0 382.0,433.0 392.0,438.0 398.5,448.0 399.0,460.0 395.0,470.0 391.7,480.0 387.2,490.0 386.9,494.1 383.5,497.5 388.6,497.5 398.7,490.8 405.0,485.0 412.0,492.0 418.9,499.2 422.2,502.5 415.5,505.9 400.5,507.5 380.0,510.0 360.0,512.0 340.0,513.0 320.0,514.0" fill="#f00" stroke="#f00" stroke-width="1.2" stroke-linejoin="round"/>
<polyline points="422.2,418.4 423.9,427.6 420.6,435.2 415.5,441.9 414.7,452.0 412.1,463.8 408.8,473.9 405.4,482.3 398.7,490.8 388.6,497.5" fill="none" stroke="#f00" stroke-width="6" stroke-linecap="round" stroke-linejoin="round"/>
<polyline points="412.1,463.8 408.8,473.9 405.4,482.3 398.7,490.8 390.0,497.0" fill="none" stroke="#f00" stroke-width="9" stroke-linecap="round" stroke-linejoin="round"/>
<circle cx="389.0" cy="474.1" r="1.7" fill="#fff"/>
<circle cx="390.3" cy="473.9" r="1.7" fill="#fff"/>
<circle cx="390.3" cy="443.5" r="1.7" fill="#fff"/>
<circle cx="355.4" cy="445.5" r="1.7" fill="#fff"/>
<circle cx="367.4" cy="447.3" r="1.7" fill="#fff"/>
<circle cx="375.1" cy="435.8" r="1.7" fill="#fff"/>
<circle cx="380.3" cy="489.8" r="1.7" fill="#fff"/>
<circle cx="365.0" cy="449.6" r="1.7" fill="#fff"/>
<circle cx="351.5" cy="469.4" r="1.7" fill="#fff"/>
<circle cx="379.8" cy="446.3" r="1.7" fill="#fff"/>
<circle cx="352.1" cy="476.6" r="1.7" fill="#fff"/>
<circle cx="367.3" cy="460.7" r="1.7" fill="#fff"/>
<circle cx="392.3" cy="466.6" r="1.7" fill="#fff"/>
<circle cx="356.5" cy="435.6" r="1.7" fill="#fff"/>
<circle cx="368.0" cy="441.9" r="1.7" fill="#fff"/>
<circle cx="373.2" cy="448.1" r="1.7" fill="#fff"/>
<circle cx="356.8" cy="444.1" r="1.7" fill="#fff"/>
<circle cx="388.7" cy="481.8" r="1.7" fill="#fff"/>
<circle cx="369.5" cy="471.5" r="1.7" fill="#fff"/>
<circle cx="358.2" cy="463.8" r="1.7" fill="#fff"/>
<circle cx="390.5" cy="467.7" r="1.7" fill="#fff"/>
<circle cx="358.1" cy="455.6" r="1.7" fill="#fff"/>
<circle cx="356.3" cy="473.6" r="1.7" fill="#fff"/>
<circle cx="355.5" cy="456.1" r="1.7" fill="#fff"/>
<circle cx="362.0" cy="485.0" r="1.7" fill="#fff"/>
<circle cx="379.1" cy="433.9" r="2.9" fill="#f00"/>
<circle cx="388.6" cy="419.9" r="2.9" fill="#f00"/>
<circle cx="383.4" cy="397.1" r="2.9" fill="#f00"/>
<circle cx="362.7" cy="430.9" r="2.9" fill="#f00"/>
<circle cx="392.2" cy="438.6" r="2.9" fill="#f00"/>
<circle cx="388.6" cy="418.8" r="2.9" fill="#f00"/>
<circle cx="364.7" cy="427.8" r="2.9" fill="#f00"/>
<circle cx="383.0" cy="437.0" r="2.9" fill="#f00"/>
<circle cx="369.8" cy="404.0" r="2.9" fill="#f00"/>
<circle cx="371.8" cy="415.5" r="2.9" fill="#f00"/>
<circle cx="360.1" cy="422.2" r="2.9" fill="#f00"/>
<circle cx="387.1" cy="428.2" r="2.9" fill="#f00"/>
<circle cx="361.6" cy="430.7" r="2.9" fill="#f00"/>
<circle cx="386.8" cy="401.2" r="2.9" fill="#f00"/>
<circle cx="378.0" cy="389.8" r="2.9" fill="#f00"/>
<circle cx="390.3" cy="383.1" r="2.9" fill="#f00"/>
<circle cx="358.0" cy="426.5" r="2.9" fill="#f00"/>
<circle cx="391.9" cy="426.0" r="2.9" fill="#f00"/>
<circle cx="368.9" cy="432.2" r="2.9" fill="#f00"/>
<circle cx="392.8" cy="389.7" r="2.9" fill="#f00"/>
<circle cx="390.2" cy="409.2" r="2.9" fill="#f00"/>
<circle cx="396.5" cy="434.2" r="2.9" fill="#f00"/>
<circle cx="388.4" cy="390.3" r="2.9" fill="#f00"/>
<circle cx="378.0" cy="390.4" r="2.9" fill="#f00"/>
<circle cx="381.0" cy="424.3" r="2.9" fill="#f00"/>
<circle cx="356.7" cy="428.7" r="2.9" fill="#f00"/>
<circle cx="396.8" cy="436.6" r="2.9" fill="#f00"/>
<circle cx="371.8" cy="408.6" r="2.9" fill="#f00"/>
<circle cx="360.6" cy="421.2" r="2.9" fill="#f00"/>
<circle cx="386.7" cy="427.2" r="2.9" fill="#f00"/>
<circle cx="378.6" cy="426.7" r="2.9" fill="#f00"/>
<circle cx="393.7" cy="436.7" r="2.9" fill="#f00"/>
<circle cx="375.1" cy="408.0" r="2.9" fill="#f00"/>
<circle cx="394.8" cy="438.4" r="2.9" fill="#f00"/>
<circle cx="380.6" cy="429.4" r="2.9" fill="#f00"/>
<circle cx="382.1" cy="382.2" r="2.9" fill="#f00"/>
<circle cx="372.6" cy="419.1" r="2.9" fill="#f00"/>
<circle cx="394.7" cy="440.9" r="2.9" fill="#f00"/>
<circle cx="378.7" cy="421.5" r="2.9" fill="#f00"/>
<circle cx="373.9" cy="392.7" r="2.9" fill="#f00"/>
<circle cx="366.3" cy="438.3" r="2.9" fill="#f00"/>
<circle cx="375.2" cy="392.2" r="2.9" fill="#f00"/>
<circle cx="366.7" cy="418.3" r="2.9" fill="#f00"/>
<circle cx="390.7" cy="441.1" r="2.9" fill="#f00"/>
<circle cx="387.6" cy="401.1" r="2.9" fill="#f00"/>
<circle cx="392.3" cy="409.3" r="2.9" fill="#f00"/>
<circle cx="382.4" cy="397.0" r="2.9" fill="#f00"/>
<circle cx="389.0" cy="396.0" r="2.9" fill="#f00"/>
<circle cx="364.2" cy="445.4" r="2.9" fill="#f00"/>
<circle cx="374.0" cy="413.0" r="2.9" fill="#f00"/>
<circle cx="386.0" cy="398.7" r="2.9" fill="#f00"/>
<circle cx="362.4" cy="413.8" r="2.9" fill="#f00"/>
<circle cx="376.8" cy="438.5" r="2.9" fill="#f00"/>
<circle cx="382.5" cy="413.8" r="2.9" fill="#f00"/>
<circle cx="387.1" cy="424.9" r="2.9" fill="#f00"/>
<circle cx="383.4" cy="427.7" r="2.9" fill="#f00"/>
<circle cx="382.9" cy="441.7" r="2.9" fill="#f00"/>
<circle cx="382.1" cy="424.7" r="2.9" fill="#f00"/>
<circle cx="372.6" cy="440.4" r="2.9" fill="#f00"/>
<circle cx="387.5" cy="431.7" r="2.9" fill="#f00"/>
<circle cx="370.9" cy="425.3" r="2.9" fill="#f00"/>
<circle cx="369.1" cy="423.9" r="2.9" fill="#f00"/>
<circle cx="377.4" cy="431.8" r="2.9" fill="#f00"/>
<circle cx="388.2" cy="428.0" r="2.9" fill="#f00"/>
<circle cx="374.8" cy="433.6" r="2.9" fill="#f00"/>
<circle cx="366.8" cy="425.2" r="2.9" fill="#f00"/>
<circle cx="376.8" cy="416.8" r="2.9" fill="#f00"/>
<circle cx="384.9" cy="443.8" r="2.9" fill="#f00"/>
<circle cx="369.4" cy="440.7" r="2.9" fill="#f00"/>
<circle cx="369.1" cy="429.2" r="2.9" fill="#f00"/>
<circle cx="376.9" cy="428.1" r="2.9" fill="#f00"/>
<circle cx="361.8" cy="436.4" r="2.9" fill="#f00"/>
<circle cx="368.2" cy="424.1" r="2.9" fill="#f00"/>
<circle cx="384.2" cy="443.3" r="2.9" fill="#f00"/>
<circle cx="366.2" cy="428.3" r="2.9" fill="#f00"/>
<circle cx="384.2" cy="429.3" r="2.9" fill="#f00"/>
<circle cx="375.1" cy="433.5" r="2.9" fill="#f00"/>
<circle cx="381.9" cy="421.2" r="2.9" fill="#f00"/>
<circle cx="376.3" cy="435.6" r="2.9" fill="#f00"/>
<circle cx="375.2" cy="419.0" r="2.9" fill="#f00"/>
<circle cx="216.7" cy="401.7" r="2.9" fill="#f00"/>
<circle cx="204.1" cy="410.5" r="2.9" fill="#f00"/>
<circle cx="205.1" cy="415.1" r="2.9" fill="#f00"/>
<circle cx="238.3" cy="413.6" r="2.9" fill="#f00"/>
<circle cx="210.0" cy="425.2" r="2.9" fill="#f00"/>
<circle cx="208.5" cy="443.5" r="2.9" fill="#f00"/>
<circle cx="212.5" cy="452.9" r="2.9" fill="#f00"/>
<circle cx="249.2" cy="446.6" r="2.9" fill="#f00"/>
<circle cx="261.4" cy="448.3" r="2.9" fill="#f00"/>
<circle cx="232.6" cy="456.3" r="2.9" fill="#f00"/>
<circle cx="209.5" cy="463.6" r="2.9" fill="#f00"/>
<circle cx="249.2" cy="466.1" r="2.9" fill="#f00"/>
<circle cx="215.6" cy="467.2" r="2.9" fill="#f00"/>
<circle cx="216.9" cy="471.4" r="2.9" fill="#f00"/>
<circle cx="220.4" cy="476.0" r="2.9" fill="#f00"/>
<circle cx="270.4" cy="470.3" r="2.9" fill="#f00"/>
<circle cx="283.9" cy="469.3" r="2.9" fill="#f00"/>
<circle cx="236.6" cy="481.5" r="2.9" fill="#f00"/>
<circle cx="242.1" cy="484.4" r="2.9" fill="#f00"/>
<circle cx="262.4" cy="478.1" r="2.9" fill="#f00"/>
<circle cx="282.4" cy="479.8" r="2.9" fill="#f00"/>
<circle cx="217.3" cy="484.4" r="2.9" fill="#f00"/>
<circle cx="217.3" cy="489.9" r="2.9" fill="#f00"/>
<circle cx="199.5" cy="390.8" r="2.9" fill="#f00"/>
<circle cx="205.3" cy="501.6" r="2.9" fill="#f00"/>
<circle cx="210.4" cy="502.3" r="2.9" fill="#f00"/>
<circle cx="258.2" cy="489.2" r="2.9" fill="#f00"/>
<circle cx="247.7" cy="492.4" r="2.9" fill="#f00"/>
<circle cx="267.7" cy="488.2" r="2.9" fill="#f00"/>
<circle cx="275.0" cy="487.1" r="2.9" fill="#f00"/>
<circle cx="284.5" cy="489.9" r="2.9" fill="#f00"/>
<circle cx="409.8" cy="314.1" r="2.9" fill="#f00"/>
<circle cx="392.7" cy="339.3" r="2.9" fill="#f00"/>
<circle cx="390.8" cy="346.4" r="2.9" fill="#f00"/>
<circle cx="382.2" cy="354.4" r="2.9" fill="#f00"/>
<circle cx="388.6" cy="354.4" r="2.9" fill="#f00"/>
<circle cx="399.3" cy="353.0" r="2.9" fill="#f00"/>
<circle cx="405.4" cy="351.4" r="2.9" fill="#f00"/>
<circle cx="411.4" cy="347.8" r="2.9" fill="#f00"/>
<circle cx="418.1" cy="362.5" r="2.9" fill="#f00"/>
<circle cx="436.0" cy="364.5" r="2.9" fill="#f00"/>
<circle cx="412.4" cy="367.5" r="2.9" fill="#f00"/>
<circle cx="413.4" cy="370.2" r="2.9" fill="#f00"/>
<circle cx="431.0" cy="372.0" r="2.9" fill="#f00"/>
<circle cx="430.2" cy="379.2" r="2.9" fill="#f00"/>
<circle cx="389.6" cy="364.9" r="2.9" fill="#f00"/>
<circle cx="385.2" cy="368.5" r="2.9" fill="#f00"/>
<circle cx="378.8" cy="371.0" r="2.9" fill="#f00"/>
<circle cx="389.2" cy="373.6" r="2.9" fill="#f00"/>
<circle cx="392.3" cy="376.6" r="2.9" fill="#f00"/>
<circle cx="399.7" cy="375.0" r="2.9" fill="#f00"/>
<circle cx="395.3" cy="378.6" r="2.9" fill="#f00"/>
<circle cx="397.3" cy="382.7" r="2.9" fill="#f00"/>
<circle cx="384.2" cy="382.3" r="2.9" fill="#f00"/>
<circle cx="388.2" cy="385.7" r="2.9" fill="#f00"/>
<circle cx="393.3" cy="387.7" r="2.9" fill="#f00"/>
<circle cx="371.1" cy="390.7" r="2.9" fill="#f00"/>
<circle cx="379.8" cy="392.3" r="2.9" fill="#f00"/>
<circle cx="375.1" cy="396.4" r="2.9" fill="#f00"/>
<circle cx="390.2" cy="394.8" r="2.9" fill="#f00"/>
<circle cx="398.3" cy="394.4" r="2.9" fill="#f00"/>
<circle cx="425.5" cy="398.8" r="2.9" fill="#f00"/>
<circle cx="382.2" cy="402.8" r="2.9" fill="#f00"/>
<circle cx="388.2" cy="403.2" r="2.9" fill="#f00"/>
<circle cx="363.0" cy="407.9" r="2.9" fill="#f00"/>
<circle cx="406.4" cy="410.5" r="2.9" fill="#f00"/>
<circle cx="420.5" cy="417.9" r="2.9" fill="#f00"/>
<circle cx="446.4" cy="455.1" r="2.9" fill="#f00"/>
<circle cx="424.5" cy="455.1" r="2.9" fill="#f00"/>
<circle cx="429.0" cy="456.3" r="2.9" fill="#f00"/>
<circle cx="409.4" cy="454.0" r="2.9" fill="#f00"/>
<circle cx="416.9" cy="480.5" r="2.9" fill="#f00"/>
<circle cx="424.5" cy="483.8" r="2.9" fill="#f00"/>
<circle cx="449.1" cy="490.3" r="2.9" fill="#f00"/>
<circle cx="397.3" cy="423.8" r="2.9" fill="#f00"/>
<circle cx="404.8" cy="420.8" r="2.9" fill="#f00"/>
<circle cx="402.6" cy="432.1" r="2.9" fill="#f00"/>
<circle cx="404.1" cy="435.9" r="2.9" fill="#f00"/>
<circle cx="396.5" cy="434.4" r="2.9" fill="#f00"/>
<circle cx="395.8" cy="439.7" r="2.9" fill="#f00"/>
<circle cx="397.3" cy="457.8" r="2.9" fill="#f00"/>
<circle cx="396.5" cy="466.9" r="2.9" fill="#f00"/>
<circle cx="370.5" cy="390.6" r="2.9" fill="#f00"/>
<circle cx="375.8" cy="395.9" r="2.9" fill="#f00"/>
<circle cx="379.6" cy="392.1" r="2.9" fill="#f00"/>
<circle cx="363.0" cy="408.0" r="2.9" fill="#f00"/>
<circle cx="375.8" cy="408.7" r="2.9" fill="#f00"/>
<circle cx="381.9" cy="402.7" r="2.9" fill="#f00"/>
<circle cx="387.9" cy="403.4" r="2.9" fill="#f00"/>
<circle cx="384.9" cy="382.3" r="2.9" fill="#f00"/>
<circle cx="389.4" cy="386.8" r="2.9" fill="#f00"/>
<circle cx="397.0" cy="382.3" r="2.9" fill="#f00"/>
<circle cx="394.0" cy="387.6" r="2.9" fill="#f00"/>
<circle cx="389.4" cy="395.9" r="2.9" fill="#f00"/>
<circle cx="398.5" cy="394.4" r="2.9" fill="#f00"/>
<circle cx="397.0" cy="411.7" r="2.9" fill="#f00"/>
<circle cx="392.4" cy="416.3" r="2.9" fill="#f00"/>
<circle cx="385.6" cy="413.3" r="2.9" fill="#f00"/>
<circle cx="397.7" cy="423.8" r="2.9" fill="#f00"/>
<circle cx="384.9" cy="423.8" r="2.9" fill="#f00"/>
<circle cx="392.4" cy="429.9" r="2.9" fill="#f00"/>
<circle cx="387.2" cy="435.9" r="2.9" fill="#f00"/>
<circle cx="395.5" cy="432.9" r="2.9" fill="#f00"/>
<circle cx="394.7" cy="440.5" r="2.9" fill="#f00"/>
<circle cx="390.9" cy="442.7" r="2.9" fill="#f00"/>
<circle cx="378.8" cy="410.2" r="2.9" fill="#f00"/>
<circle cx="372.8" cy="419.3" r="2.9" fill="#f00"/>
<circle cx="362.2" cy="417.0" r="2.9" fill="#f00"/>
<circle cx="359.2" cy="420.8" r="2.9" fill="#f00"/>
<circle cx="355.4" cy="429.9" r="2.9" fill="#f00"/>
<circle cx="369.8" cy="426.9" r="2.9" fill="#f00"/>
<circle cx="365.2" cy="432.9" r="2.9" fill="#f00"/>
<circle cx="377.3" cy="429.9" r="2.9" fill="#f00"/>
<circle cx="380.4" cy="437.4" r="2.9" fill="#f00"/>
<circle cx="374.3" cy="440.5" r="2.9" fill="#f00"/>
<circle cx="369.8" cy="445.0" r="2.9" fill="#f00"/>
<circle cx="383.4" cy="446.5" r="2.9" fill="#f00"/>
<circle cx="392.4" cy="454.1" r="2.9" fill="#f00"/>
<circle cx="397.0" cy="458.6" r="2.9" fill="#f00"/>
<circle cx="358.4" cy="445.0" r="2.9" fill="#f00"/>
<circle cx="351.6" cy="439.0" r="2.9" fill="#f00"/>
<circle cx="347.1" cy="452.6" r="2.9" fill="#f00"/>
<circle cx="354.7" cy="429.9" r="2.9" fill="#f00"/>
<circle cx="357.7" cy="417.8" r="2.9" fill="#f00"/>
<circle cx="362.2" cy="408.7" r="2.9" fill="#f00"/>
<polygon points="275.0,512.4 276.0,511.9 307.0,511.9 313.6,513.2 320.0,511.9 352.0,511.9 353.4,512.4 352.0,512.8 335.7,514.7 313.6,516.6 297.1,515.4 278.0,513.4" fill="#000" stroke="#000" stroke-width="3" stroke-linejoin="round"/>
</g>
<line x1="313.70" y1="307.7" x2="313.70" y2="522.1" stroke="#333" stroke-width="1.3" stroke-dasharray="3.4,2.75"/>
<rect x="190" y="306.5" width="269.2" height="216.60000000000002" fill="none" stroke="#1a1a1a" stroke-width="2"/>
<line x1="192.0" y1="523.1" x2="192.0" y2="533.1" stroke="#1a1a1a" stroke-width="2"/>
<text x="192.0" y="555.9" font-size="15.8" text-anchor="middle" fill="#111">−15</text>
<line x1="232.5" y1="523.1" x2="232.5" y2="533.1" stroke="#1a1a1a" stroke-width="2"/>
<text x="232.5" y="555.9" font-size="15.8" text-anchor="middle" fill="#111">−10</text>
<line x1="273.0" y1="523.1" x2="273.0" y2="533.1" stroke="#1a1a1a" stroke-width="2"/>
<text x="273.0" y="555.9" font-size="15.8" text-anchor="middle" fill="#111">−5</text>
<line x1="313.4" y1="523.1" x2="313.4" y2="533.1" stroke="#1a1a1a" stroke-width="2"/>
<text x="313.4" y="555.9" font-size="15.8" text-anchor="middle" fill="#111">0</text>
<line x1="353.9" y1="523.1" x2="353.9" y2="533.1" stroke="#1a1a1a" stroke-width="2"/>
<text x="353.9" y="555.9" font-size="15.8" text-anchor="middle" fill="#111">5</text>
<line x1="394.4" y1="523.1" x2="394.4" y2="533.1" stroke="#1a1a1a" stroke-width="2"/>
<text x="394.4" y="555.9" font-size="15.8" text-anchor="middle" fill="#111">10</text>
<line x1="434.9" y1="523.1" x2="434.9" y2="533.1" stroke="#1a1a1a" stroke-width="2"/>
<text x="434.9" y="555.9" font-size="15.8" text-anchor="middle" fill="#111">15</text>
<line x1="180" y1="515.0" x2="190" y2="515.0" stroke="#1a1a1a" stroke-width="2"/>
<text transform="translate(168.5,515.0) rotate(-90)" font-size="15.8" text-anchor="middle" fill="#111">0</text>
<line x1="180" y1="469.3" x2="190" y2="469.3" stroke="#1a1a1a" stroke-width="2"/>
<text transform="translate(168.5,469.3) rotate(-90)" font-size="15.8" text-anchor="middle" fill="#111">20</text>
<line x1="180" y1="423.6" x2="190" y2="423.6" stroke="#1a1a1a" stroke-width="2"/>
<text transform="translate(168.5,423.6) rotate(-90)" font-size="15.8" text-anchor="middle" fill="#111">40</text>
<line x1="180" y1="378.0" x2="190" y2="378.0" stroke="#1a1a1a" stroke-width="2"/>
<text transform="translate(168.5,378.0) rotate(-90)" font-size="15.8" text-anchor="middle" fill="#111">60</text>
<line x1="180" y1="332.3" x2="190" y2="332.3" stroke="#1a1a1a" stroke-width="2"/>
<text transform="translate(168.5,332.3) rotate(-90)" font-size="15.8" text-anchor="middle" fill="#111">80</text>
<g>
<polygon points="571.0,402.0 577.0,404.0 580.6,417.2 588.0,434.0 595.7,451.2 605.0,468.0 614.6,485.3 620.0,497.0 623.2,506.0 630.0,511.0 600.0,508.0 588.2,504.2 561.7,496.6 545.0,491.0 533.5,488.0 527.0,483.0 530.0,476.0 536.0,470.0 545.0,472.0 555.0,472.0 565.0,468.0 567.4,458.8 570.0,440.0 571.2,413.4" fill="#f00" stroke="#f00" stroke-width="1.2" stroke-linejoin="round"/>
<polygon points="633.5,506.0 640.0,500.0 656.2,477.7 671.4,451.2 682.7,421.0 690.3,402.1 694.0,392.0 702.0,390.0 712.0,387.0 722.9,388.6 717.1,408.6 711.4,431.4 707.1,454.3 707.1,457.1 712.9,448.6 717.0,440.0 722.0,444.0 717.1,462.9 708.6,477.1 701.6,489.0 690.0,496.0 678.9,500.4 660.0,505.0 645.0,507.0" fill="#f00" stroke="#f00" stroke-width="1.2" stroke-linejoin="round"/>
<polygon points="708.6,477.1 717.0,470.0 725.0,465.0 728.0,475.0 725.4,477.4 713.2,489.6 701.0,499.3 690.0,503.0 678.9,502.0" fill="#f00" stroke="#f00" stroke-width="1.2" stroke-linejoin="round"/>
<polyline points="529.8,401.8 527.9,406.5 531.6,411.1 531.6,420.3 533.5,427.7 535.3,435.1" fill="none" stroke="#f00" stroke-width="6" stroke-linecap="round" stroke-linejoin="round"/>
<polyline points="535.3,435.1 539.0,442.5 542.7,451.8 546.4,459.1 552.0,468.4 557.5,473.9 563.1,479.5" fill="none" stroke="#f00" stroke-width="8" stroke-linecap="round" stroke-linejoin="round"/>
<polyline points="558.4,429.6 558.4,433.3 559.4,439.7 559.4,446.2 560.3,449.9" fill="none" stroke="#f00" stroke-width="5.5" stroke-linecap="round" stroke-linejoin="round"/>
<polyline points="755.7,340.0 748.6,351.4 742.9,365.7 738.6,382.9" fill="none" stroke="#f00" stroke-width="7" stroke-linecap="round" stroke-linejoin="round"/>
<polyline points="738.6,382.9 734.3,405.7 728.6,425.7 722.9,445.7 717.1,462.9 708.6,477.1 700.0,488.0" fill="none" stroke="#f00" stroke-width="10" stroke-linecap="round" stroke-linejoin="round"/>
<circle cx="709.7" cy="401.7" r="1.7" fill="#fff"/>
<circle cx="713.1" cy="408.3" r="1.7" fill="#fff"/>
<circle cx="712.2" cy="394.9" r="1.7" fill="#fff"/>
<circle cx="703.8" cy="405.8" r="1.7" fill="#fff"/>
<circle cx="715.8" cy="409.4" r="1.7" fill="#fff"/>
<circle cx="682.6" cy="439.4" r="1.7" fill="#fff"/>
<circle cx="707.0" cy="450.5" r="1.7" fill="#fff"/>
<circle cx="688.4" cy="454.3" r="1.7" fill="#fff"/>
<circle cx="711.4" cy="390.5" r="1.7" fill="#fff"/>
<circle cx="695.0" cy="422.9" r="1.7" fill="#fff"/>
<circle cx="685.1" cy="436.4" r="1.7" fill="#fff"/>
<circle cx="717.9" cy="389.6" r="1.7" fill="#fff"/>
<circle cx="701.2" cy="431.4" r="1.7" fill="#fff"/>
<circle cx="678.6" cy="433.2" r="1.7" fill="#fff"/>
<circle cx="696.8" cy="417.4" r="1.7" fill="#fff"/>
<circle cx="691.1" cy="465.1" r="1.7" fill="#fff"/>
<circle cx="711.6" cy="409.7" r="1.7" fill="#fff"/>
<circle cx="697.2" cy="441.8" r="1.7" fill="#fff"/>
<circle cx="684.8" cy="441.9" r="1.7" fill="#fff"/>
<circle cx="714.4" cy="392.9" r="1.7" fill="#fff"/>
<circle cx="576.5" cy="452.6" r="1.7" fill="#fff"/>
<circle cx="566.1" cy="486.8" r="1.7" fill="#fff"/>
<circle cx="566.7" cy="481.5" r="1.7" fill="#fff"/>
<circle cx="568.3" cy="483.8" r="1.7" fill="#fff"/>
<circle cx="566.4" cy="470.9" r="1.7" fill="#fff"/>
<circle cx="557.2" cy="475.9" r="1.7" fill="#fff"/>
<circle cx="560.7" cy="467.3" r="1.7" fill="#fff"/>
<circle cx="582.1" cy="489.6" r="1.7" fill="#fff"/>
<circle cx="570.2" cy="477.1" r="1.7" fill="#fff"/>
<circle cx="555.9" cy="477.2" r="1.7" fill="#fff"/>
<circle cx="715.5" cy="376.3" r="2.9" fill="#f00"/>
<circle cx="740.6" cy="351.4" r="2.9" fill="#f00"/>
<circle cx="698.9" cy="385.4" r="2.9" fill="#f00"/>
<circle cx="738.2" cy="336.2" r="2.9" fill="#f00"/>
<circle cx="704.0" cy="368.4" r="2.9" fill="#f00"/>
<circle cx="718.9" cy="354.4" r="2.9" fill="#f00"/>
<circle cx="695.7" cy="385.1" r="2.9" fill="#f00"/>
<circle cx="730.1" cy="360.1" r="2.9" fill="#f00"/>
<circle cx="698.6" cy="381.9" r="2.9" fill="#f00"/>
<circle cx="733.5" cy="339.6" r="2.9" fill="#f00"/>
<circle cx="694.6" cy="394.3" r="2.9" fill="#f00"/>
<circle cx="713.8" cy="361.8" r="2.9" fill="#f00"/>
<circle cx="732.8" cy="350.1" r="2.9" fill="#f00"/>
<circle cx="704.1" cy="383.4" r="2.9" fill="#f00"/>
<circle cx="714.8" cy="358.2" r="2.9" fill="#f00"/>
<circle cx="737.0" cy="355.9" r="2.9" fill="#f00"/>
<circle cx="735.3" cy="374.0" r="2.9" fill="#f00"/>
<circle cx="716.1" cy="372.6" r="2.9" fill="#f00"/>
<circle cx="719.8" cy="367.4" r="2.9" fill="#f00"/>
<circle cx="726.5" cy="345.8" r="2.9" fill="#f00"/>
<circle cx="707.6" cy="377.0" r="2.9" fill="#f00"/>
<circle cx="738.3" cy="352.8" r="2.9" fill="#f00"/>
<circle cx="701.7" cy="375.6" r="2.9" fill="#f00"/>
<circle cx="735.2" cy="354.2" r="2.9" fill="#f00"/>
<circle cx="715.7" cy="376.1" r="2.9" fill="#f00"/>
<circle cx="723.6" cy="346.4" r="2.9" fill="#f00"/>
<circle cx="694.0" cy="395.4" r="2.9" fill="#f00"/>
<circle cx="720.6" cy="383.1" r="2.9" fill="#f00"/>
<circle cx="711.8" cy="378.2" r="2.9" fill="#f00"/>
<circle cx="716.6" cy="383.5" r="2.9" fill="#f00"/>
<circle cx="711.2" cy="359.8" r="2.9" fill="#f00"/>
<circle cx="717.2" cy="357.8" r="2.9" fill="#f00"/>
<circle cx="718.0" cy="366.9" r="2.9" fill="#f00"/>
<circle cx="724.1" cy="380.6" r="2.9" fill="#f00"/>
<circle cx="728.1" cy="346.8" r="2.9" fill="#f00"/>
<circle cx="722.8" cy="372.2" r="2.9" fill="#f00"/>
<circle cx="720.9" cy="367.2" r="2.9" fill="#f00"/>
<circle cx="730.2" cy="372.7" r="2.9" fill="#f00"/>
<circle cx="697.4" cy="378.3" r="2.9" fill="#f00"/>
<circle cx="732.0" cy="342.6" r="2.9" fill="#f00"/>
<circle cx="701.2" cy="373.9" r="2.9" fill="#f00"/>
<circle cx="718.0" cy="352.8" r="2.9" fill="#f00"/>
<circle cx="708.5" cy="376.5" r="2.9" fill="#f00"/>
<circle cx="717.2" cy="363.4" r="2.9" fill="#f00"/>
<circle cx="704.7" cy="372.1" r="2.9" fill="#f00"/>
<circle cx="710.4" cy="357.0" r="2.9" fill="#f00"/>
<circle cx="713.3" cy="362.3" r="2.9" fill="#f00"/>
<circle cx="730.7" cy="348.8" r="2.9" fill="#f00"/>
<circle cx="712.3" cy="381.1" r="2.9" fill="#f00"/>
<circle cx="705.9" cy="370.5" r="2.9" fill="#f00"/>
<circle cx="727.0" cy="350.4" r="2.9" fill="#f00"/>
<circle cx="726.9" cy="368.6" r="2.9" fill="#f00"/>
<circle cx="717.6" cy="370.7" r="2.9" fill="#f00"/>
<circle cx="718.2" cy="362.8" r="2.9" fill="#f00"/>
<circle cx="701.5" cy="374.4" r="2.9" fill="#f00"/>
<circle cx="708.2" cy="399.0" r="2.9" fill="#f00"/>
<circle cx="711.1" cy="392.4" r="2.9" fill="#f00"/>
<circle cx="698.8" cy="406.3" r="2.9" fill="#f00"/>
<circle cx="699.3" cy="391.4" r="2.9" fill="#f00"/>
<circle cx="716.6" cy="408.5" r="2.9" fill="#f00"/>
<circle cx="699.0" cy="394.0" r="2.9" fill="#f00"/>
<circle cx="713.6" cy="391.7" r="2.9" fill="#f00"/>
<circle cx="722.1" cy="388.4" r="2.9" fill="#f00"/>
<circle cx="712.3" cy="390.4" r="2.9" fill="#f00"/>
<circle cx="701.5" cy="406.9" r="2.9" fill="#f00"/>
<circle cx="714.7" cy="393.7" r="2.9" fill="#f00"/>
<circle cx="699.3" cy="393.8" r="2.9" fill="#f00"/>
<circle cx="708.3" cy="399.2" r="2.9" fill="#f00"/>
<circle cx="714.6" cy="395.8" r="2.9" fill="#f00"/>
<circle cx="701.0" cy="401.6" r="2.9" fill="#f00"/>
<circle cx="539.0" cy="424.4" r="2.9" fill="#f00"/>
<circle cx="552.7" cy="440.4" r="2.9" fill="#f00"/>
<circle cx="537.2" cy="431.7" r="2.9" fill="#f00"/>
<circle cx="555.2" cy="451.0" r="2.9" fill="#f00"/>
<circle cx="547.1" cy="427.5" r="2.9" fill="#f00"/>
<circle cx="562.3" cy="427.5" r="2.9" fill="#f00"/>
<circle cx="557.3" cy="444.8" r="2.9" fill="#f00"/>
<circle cx="549.6" cy="429.6" r="2.9" fill="#f00"/>
<circle cx="562.4" cy="425.0" r="2.9" fill="#f00"/>
<circle cx="560.1" cy="431.5" r="2.9" fill="#f00"/>
<circle cx="553.8" cy="443.8" r="2.9" fill="#f00"/>
<circle cx="568.4" cy="430.8" r="2.9" fill="#f00"/>
<circle cx="553.1" cy="450.4" r="2.9" fill="#f00"/>
<circle cx="559.5" cy="443.4" r="2.9" fill="#f00"/>
<circle cx="557.7" cy="441.4" r="2.9" fill="#f00"/>
<circle cx="562.0" cy="441.7" r="2.9" fill="#f00"/>
<circle cx="543.8" cy="434.2" r="2.9" fill="#f00"/>
<circle cx="557.1" cy="430.6" r="2.9" fill="#f00"/>
<circle cx="563.1" cy="441.2" r="2.9" fill="#f00"/>
<circle cx="538.1" cy="425.6" r="2.9" fill="#f00"/>
<circle cx="551.2" cy="446.7" r="2.9" fill="#f00"/>
<circle cx="555.5" cy="437.6" r="2.9" fill="#f00"/>
<circle cx="545.4" cy="426.7" r="2.9" fill="#f00"/>
<circle cx="542.4" cy="438.1" r="2.9" fill="#f00"/>
<circle cx="565.3" cy="419.5" r="2.9" fill="#f00"/>
<circle cx="565.3" cy="428.4" r="2.9" fill="#f00"/>
<circle cx="554.6" cy="439.8" r="2.9" fill="#f00"/>
<circle cx="565.8" cy="420.9" r="2.9" fill="#f00"/>
<circle cx="560.8" cy="424.9" r="2.9" fill="#f00"/>
<circle cx="549.1" cy="437.6" r="2.9" fill="#f00"/>
<circle cx="563.2" cy="425.4" r="2.9" fill="#f00"/>
<circle cx="566.1" cy="428.9" r="2.9" fill="#f00"/>
<circle cx="562.7" cy="452.3" r="2.9" fill="#f00"/>
<circle cx="562.5" cy="439.5" r="2.9" fill="#f00"/>
<circle cx="556.6" cy="438.8" r="2.9" fill="#f00"/>
<circle cx="562.3" cy="454.8" r="2.9" fill="#f00"/>
<circle cx="556.9" cy="432.7" r="2.9" fill="#f00"/>
<circle cx="551.4" cy="438.9" r="2.9" fill="#f00"/>
<circle cx="565.3" cy="456.3" r="2.9" fill="#f00"/>
<circle cx="568.8" cy="430.0" r="2.9" fill="#f00"/>
<circle cx="534.8" cy="424.1" r="2.9" fill="#f00"/>
<circle cx="565.1" cy="455.9" r="2.9" fill="#f00"/>
<circle cx="553.0" cy="449.7" r="2.9" fill="#f00"/>
<circle cx="567.4" cy="457.6" r="2.9" fill="#f00"/>
<circle cx="545.5" cy="438.6" r="2.9" fill="#f00"/>
<circle cx="529.5" cy="430.3" r="2.9" fill="#f00"/>
<circle cx="531.4" cy="439.8" r="2.9" fill="#f00"/>
<circle cx="532.8" cy="417.1" r="2.9" fill="#f00"/>
<circle cx="540.6" cy="474.2" r="2.9" fill="#f00"/>
<circle cx="549.5" cy="463.1" r="2.9" fill="#f00"/>
<circle cx="537.4" cy="447.6" r="2.9" fill="#f00"/>
<circle cx="531.6" cy="420.6" r="2.9" fill="#f00"/>
<circle cx="534.8" cy="449.3" r="2.9" fill="#f00"/>
<circle cx="540.3" cy="439.2" r="2.9" fill="#f00"/>
<circle cx="542.3" cy="466.5" r="2.9" fill="#f00"/>
<circle cx="533.9" cy="467.5" r="2.9" fill="#f00"/>
<circle cx="557.2" cy="467.5" r="2.9" fill="#f00"/>
<circle cx="526.9" cy="440.1" r="2.9" fill="#f00"/>
<circle cx="528.5" cy="401.5" r="2.9" fill="#f00"/>
<circle cx="541.3" cy="445.2" r="2.9" fill="#f00"/>
<circle cx="531.6" cy="415.0" r="2.9" fill="#f00"/>
<circle cx="540.4" cy="455.8" r="2.9" fill="#f00"/>
<circle cx="531.2" cy="429.4" r="2.9" fill="#f00"/>
<circle cx="539.0" cy="473.1" r="2.9" fill="#f00"/>
<circle cx="531.4" cy="446.5" r="2.9" fill="#f00"/>
<circle cx="532.5" cy="406.1" r="2.9" fill="#f00"/>
<circle cx="552.2" cy="471.2" r="2.9" fill="#f00"/>
<circle cx="545.7" cy="457.0" r="2.9" fill="#f00"/>
<circle cx="542.8" cy="457.5" r="2.9" fill="#f00"/>
<circle cx="534.6" cy="423.2" r="2.9" fill="#f00"/>
<circle cx="528.7" cy="435.6" r="2.9" fill="#f00"/>
<circle cx="550.9" cy="474.1" r="2.9" fill="#f00"/>
<circle cx="542.8" cy="445.6" r="2.9" fill="#f00"/>
<circle cx="535.7" cy="422.5" r="2.9" fill="#f00"/>
<circle cx="527.5" cy="403.4" r="2.9" fill="#f00"/>
<circle cx="543.4" cy="458.4" r="2.9" fill="#f00"/>
<circle cx="543.9" cy="473.6" r="2.9" fill="#f00"/>
<circle cx="554.2" cy="479.1" r="2.9" fill="#f00"/>
<circle cx="553.5" cy="472.5" r="2.9" fill="#f00"/>
<circle cx="530.0" cy="419.2" r="2.9" fill="#f00"/>
<circle cx="734.2" cy="447.3" r="2.9" fill="#f00"/>
<circle cx="729.9" cy="452.7" r="2.9" fill="#f00"/>
<circle cx="732.1" cy="456.1" r="2.9" fill="#f00"/>
<circle cx="729.4" cy="471.1" r="2.9" fill="#f00"/>
<circle cx="732.6" cy="456.5" r="2.9" fill="#f00"/>
<circle cx="727.1" cy="456.2" r="2.9" fill="#f00"/>
<circle cx="728.5" cy="445.0" r="2.9" fill="#f00"/>
<circle cx="725.6" cy="459.0" r="2.9" fill="#f00"/>
<circle cx="532.2" cy="355.3" r="2.9" fill="#f00"/>
<circle cx="520.1" cy="362.6" r="2.9" fill="#f00"/>
<circle cx="540.6" cy="389.3" r="2.9" fill="#f00"/>
<circle cx="536.5" cy="393.6" r="2.9" fill="#f00"/>
<circle cx="530.4" cy="401.1" r="2.9" fill="#f00"/>
<circle cx="527.7" cy="406.0" r="2.9" fill="#f00"/>
<circle cx="531.5" cy="407.2" r="2.9" fill="#f00"/>
<circle cx="533.0" cy="411.3" r="2.9" fill="#f00"/>
<circle cx="532.2" cy="414.3" r="2.9" fill="#f00"/>
<circle cx="557.2" cy="407.5" r="2.9" fill="#f00"/>
<circle cx="574.6" cy="403.7" r="2.9" fill="#f00"/>
<circle cx="517.9" cy="427.2" r="2.9" fill="#f00"/>
<circle cx="558.0" cy="429.4" r="2.9" fill="#f00"/>
<circle cx="558.7" cy="432.9" r="2.9" fill="#f00"/>
<circle cx="559.2" cy="439.0" r="2.9" fill="#f00"/>
<circle cx="531.5" cy="421.1" r="2.9" fill="#f00"/>
<circle cx="534.5" cy="421.9" r="2.9" fill="#f00"/>
<circle cx="532.2" cy="428.7" r="2.9" fill="#f00"/>
<circle cx="536.0" cy="430.2" r="2.9" fill="#f00"/>
<circle cx="572.3" cy="412.0" r="2.9" fill="#f00"/>
<circle cx="575.3" cy="410.5" r="2.9" fill="#f00"/>
<circle cx="577.6" cy="415.8" r="2.9" fill="#f00"/>
<circle cx="573.8" cy="419.6" r="2.9" fill="#f00"/>
<circle cx="580.6" cy="422.6" r="2.9" fill="#f00"/>
<circle cx="529.8" cy="446.2" r="2.9" fill="#f00"/>
<circle cx="528.9" cy="451.8" r="2.9" fill="#f00"/>
<circle cx="530.7" cy="459.1" r="2.9" fill="#f00"/>
<circle cx="537.2" cy="455.5" r="2.9" fill="#f00"/>
<circle cx="531.6" cy="481.3" r="2.9" fill="#f00"/>
<circle cx="528.9" cy="479.5" r="2.9" fill="#f00"/>
<circle cx="539.0" cy="466.5" r="2.9" fill="#f00"/>
<circle cx="515.9" cy="473.0" r="2.9" fill="#f00"/>
<circle cx="557.5" cy="407.4" r="2.9" fill="#f00"/>
<circle cx="553.8" cy="454.5" r="2.9" fill="#f00"/>
<circle cx="559.4" cy="459.1" r="2.9" fill="#f00"/>
<circle cx="565.0" cy="449.0" r="2.9" fill="#f00"/>
<circle cx="570.5" cy="446.2" r="2.9" fill="#f00"/>
<circle cx="568.6" cy="455.5" r="2.9" fill="#f00"/>
<circle cx="566.8" cy="464.7" r="2.9" fill="#f00"/>
<circle cx="742.4" cy="335.9" r="2.9" fill="#f00"/>
<circle cx="739.4" cy="340.3" r="2.9" fill="#f00"/>
<circle cx="733.4" cy="342.4" r="2.9" fill="#f00"/>
<circle cx="735.4" cy="348.4" r="2.9" fill="#f00"/>
<circle cx="716.8" cy="352.0" r="2.9" fill="#f00"/>
<circle cx="712.2" cy="354.5" r="2.9" fill="#f00"/>
<circle cx="725.3" cy="357.5" r="2.9" fill="#f00"/>
<circle cx="755.0" cy="358.1" r="2.9" fill="#f00"/>
<circle cx="727.3" cy="364.5" r="2.9" fill="#f00"/>
<circle cx="719.2" cy="365.6" r="2.9" fill="#f00"/>
<circle cx="733.0" cy="373.0" r="2.9" fill="#f00"/>
<circle cx="708.2" cy="370.6" r="2.9" fill="#f00"/>
<circle cx="702.1" cy="375.6" r="2.9" fill="#f00"/>
<circle cx="706.1" cy="384.7" r="2.9" fill="#f00"/>
<circle cx="697.1" cy="382.7" r="2.9" fill="#f00"/>
<circle cx="746.5" cy="393.4" r="2.9" fill="#f00"/>
<circle cx="754.1" cy="393.4" r="2.9" fill="#f00"/>
<circle cx="765.6" cy="314.5" r="2.9" fill="#f00"/>
<circle cx="759.0" cy="328.6" r="2.9" fill="#f00"/>
<circle cx="754.9" cy="357.7" r="2.9" fill="#f00"/>
<circle cx="746.3" cy="392.9" r="2.9" fill="#f00"/>
<circle cx="754.3" cy="392.9" r="2.9" fill="#f00"/>
<circle cx="741.4" cy="454.3" r="2.9" fill="#f00"/>
<circle cx="740.0" cy="458.6" r="2.9" fill="#f00"/>
<circle cx="748.6" cy="471.4" r="2.9" fill="#f00"/>
<circle cx="741.4" cy="472.9" r="2.9" fill="#f00"/>
<circle cx="730.0" cy="470.0" r="2.9" fill="#f00"/>
<circle cx="727.1" cy="452.9" r="2.9" fill="#f00"/>
<circle cx="731.4" cy="477.1" r="2.9" fill="#f00"/>
<circle cx="711.4" cy="352.9" r="2.9" fill="#f00"/>
<circle cx="717.1" cy="351.4" r="2.9" fill="#f00"/>
<circle cx="725.7" cy="357.1" r="2.9" fill="#f00"/>
<circle cx="708.6" cy="370.0" r="2.9" fill="#f00"/>
<circle cx="701.4" cy="377.1" r="2.9" fill="#f00"/>
<circle cx="694.3" cy="382.9" r="2.9" fill="#f00"/>
<circle cx="690.0" cy="402.9" r="2.9" fill="#f00"/>
<circle cx="685.7" cy="414.3" r="2.9" fill="#f00"/>
<polygon points="588.4,506.6 590.0,505.0 617.5,505.0 622.5,508.5 630.9,512.7 640.5,507.2 645.3,505.0 672.0,505.0 674.1,507.3 672.0,508.3 654.0,512.8 630.9,516.6 610.9,512.8 595.7,509.0" fill="#000" stroke="#000" stroke-width="3" stroke-linejoin="round"/>
<circle cx="684.0" cy="505.4" r="2.9" fill="#000"/>
<circle cx="690.8" cy="505.4" r="2.9" fill="#000"/>
</g>
<line x1="630.80" y1="308.5" x2="630.80" y2="522.1" stroke="#333" stroke-width="1.3" stroke-dasharray="3.4,2.75"/>
<rect x="505.5" y="306.5" width="270.79999999999995" height="216.60000000000002" fill="none" stroke="#1a1a1a" stroke-width="2"/>
<line x1="507.8" y1="523.1" x2="507.8" y2="533.1" stroke="#1a1a1a" stroke-width="2"/>
<text x="507.8" y="555.9" font-size="15.8" text-anchor="middle" fill="#111">−15</text>
<line x1="548.7" y1="523.1" x2="548.7" y2="533.1" stroke="#1a1a1a" stroke-width="2"/>
<text x="548.7" y="555.9" font-size="15.8" text-anchor="middle" fill="#111">−10</text>
<line x1="589.6" y1="523.1" x2="589.6" y2="533.1" stroke="#1a1a1a" stroke-width="2"/>
<text x="589.6" y="555.9" font-size="15.8" text-anchor="middle" fill="#111">−5</text>
<line x1="630.5" y1="523.1" x2="630.5" y2="533.1" stroke="#1a1a1a" stroke-width="2"/>
<text x="630.5" y="555.9" font-size="15.8" text-anchor="middle" fill="#111">0</text>
<line x1="671.4" y1="523.1" x2="671.4" y2="533.1" stroke="#1a1a1a" stroke-width="2"/>
<text x="671.4" y="555.9" font-size="15.8" text-anchor="middle" fill="#111">5</text>
<line x1="712.3" y1="523.1" x2="712.3" y2="533.1" stroke="#1a1a1a" stroke-width="2"/>
<text x="712.3" y="555.9" font-size="15.8" text-anchor="middle" fill="#111">10</text>
<line x1="753.2" y1="523.1" x2="753.2" y2="533.1" stroke="#1a1a1a" stroke-width="2"/>
<text x="753.2" y="555.9" font-size="15.8" text-anchor="middle" fill="#111">15</text>
<line x1="495.5" y1="515.4" x2="505.5" y2="515.4" stroke="#1a1a1a" stroke-width="2"/>
<text transform="translate(484.2,515.4) rotate(-90)" font-size="15.8" text-anchor="middle" fill="#111">0</text>
<line x1="495.5" y1="476.1" x2="505.5" y2="476.1" stroke="#1a1a1a" stroke-width="2"/>
<text transform="translate(484.2,476.1) rotate(-90)" font-size="15.8" text-anchor="middle" fill="#111">5</text>
<line x1="495.5" y1="436.8" x2="505.5" y2="436.8" stroke="#1a1a1a" stroke-width="2"/>
<text transform="translate(484.2,436.8) rotate(-90)" font-size="15.8" text-anchor="middle" fill="#111">10</text>
<line x1="495.5" y1="397.6" x2="505.5" y2="397.6" stroke="#1a1a1a" stroke-width="2"/>
<text transform="translate(484.2,397.6) rotate(-90)" font-size="15.8" text-anchor="middle" fill="#111">15</text>
<line x1="495.5" y1="358.3" x2="505.5" y2="358.3" stroke="#1a1a1a" stroke-width="2"/>
<text transform="translate(484.2,358.3) rotate(-90)" font-size="15.8" text-anchor="middle" fill="#111">20</text>
<line x1="495.5" y1="319.0" x2="505.5" y2="319.0" stroke="#1a1a1a" stroke-width="2"/>
<text transform="translate(484.2,319.0) rotate(-90)" font-size="15.8" text-anchor="middle" fill="#111">25</text>
<text x="322.5" y="13" font-size="17.2" text-anchor="middle" fill="#111">MRT vs body</text>
<text x="641.4" y="13" font-size="17.2" text-anchor="middle" fill="#111">haemolymph vs body</text>
<text x="482.75" y="590.3" font-size="17.5" text-anchor="middle" fill="#111">logFC</text>
<text transform="translate(138.5,278.65) rotate(-90)" font-size="17.5" text-anchor="middle" fill="#111">−1*log10(FDR)</text>
</svg></body></html>
